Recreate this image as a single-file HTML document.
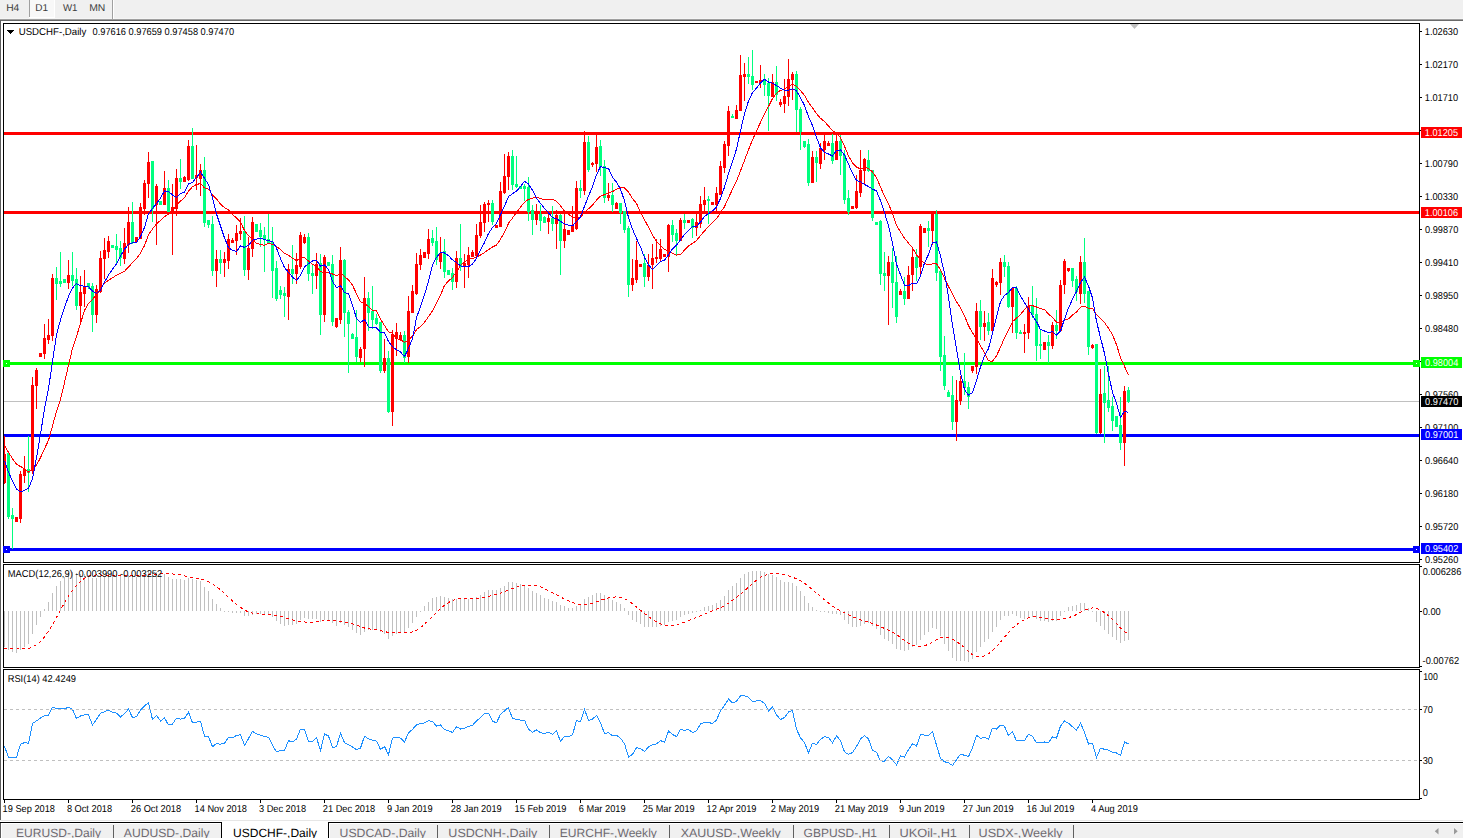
<!DOCTYPE html>
<html><head><meta charset="utf-8"><style>
html,body{margin:0;padding:0;width:1463px;height:838px;overflow:hidden;background:#fff;font-family:"Liberation Sans", sans-serif;}
svg{display:block}
</style></head><body><svg width="1463" height="838" viewBox="0 0 1463 838" text-rendering="geometricPrecision" font-family='"Liberation Sans", sans-serif'><rect x="0" y="0" width="1463" height="838" fill="#ffffff" /><rect x="0" y="0" width="1463" height="19" fill="#f0f0f0" /><rect x="0" y="18" width="1463" height="1" fill="#f5f5f5" /><rect x="0" y="19" width="1463" height="1" fill="#a0a0a0" /><rect x="0" y="20" width="1463" height="1" fill="#696969" /><rect x="0" y="20" width="1" height="800" fill="#5f5f5f" /><rect x="29" y="0" width="1" height="17" fill="#a0a0a0" /><rect x="30" y="0" width="24" height="17" fill="#f8f8f8" /><rect x="54" y="0" width="1" height="18" fill="#ffffff" /><rect x="29" y="17" width="26" height="1" fill="#ffffff" /><rect x="112" y="0" width="1" height="19" fill="#a0a0a0" /><rect x="113" y="0" width="1" height="19" fill="#ffffff" /><text transform="translate(6.18,11) scale(1.0300,1)" font-size="10" fill="#3c3c3c" >H4</text><text transform="translate(35.20,11) scale(1.0000,1)" font-size="10" fill="#3c3c3c" >D1</text><text transform="translate(62.95,11) scale(0.9655,1)" font-size="10" fill="#3c3c3c" >W1</text><text transform="translate(89.17,11) scale(1.0394,1)" font-size="10" fill="#3c3c3c" >MN</text><rect x="4" y="132" width="1415" height="3" fill="#ff0000" /><rect x="4" y="211" width="1415" height="3" fill="#ff0000" /><rect x="4" y="362" width="1415" height="3" fill="#00ff00" /><rect x="4" y="434" width="1415" height="3" fill="#0000ff" /><rect x="4" y="548" width="1415" height="3" fill="#0000ff" /><rect x="4" y="401" width="1415" height="1" fill="#c0c0c0" /><g shape-rendering="crispEdges"><rect x="4" y="436" width="1" height="48" fill="#ff0000"/><rect x="3" y="454" width="3" height="29" fill="#ff0000"/><rect x="8" y="452" width="1" height="67" fill="#00ff7f"/><rect x="7" y="453" width="3" height="64" fill="#00ff7f"/><rect x="12" y="508" width="1" height="41" fill="#00ff7f"/><rect x="11" y="515" width="3" height="4" fill="#00ff7f"/><rect x="16" y="517" width="1" height="5" fill="#ff0000"/><rect x="15" y="517" width="3" height="5" fill="#ff0000"/><rect x="20" y="471" width="1" height="52" fill="#ff0000"/><rect x="19" y="474" width="3" height="45" fill="#ff0000"/><rect x="24" y="456" width="1" height="27" fill="#ff0000"/><rect x="23" y="469" width="3" height="7" fill="#ff0000"/><rect x="28" y="436" width="1" height="56" fill="#00ff7f"/><rect x="27" y="469" width="3" height="4" fill="#00ff7f"/><rect x="32" y="377" width="1" height="97" fill="#ff0000"/><rect x="31" y="385" width="3" height="86" fill="#ff0000"/><rect x="36" y="368" width="1" height="41" fill="#ff0000"/><rect x="35" y="370" width="3" height="16" fill="#ff0000"/><rect x="40" y="353" width="1" height="4" fill="#ff0000"/><rect x="39" y="353" width="3" height="4" fill="#ff0000"/><rect x="44" y="324" width="1" height="35" fill="#ff0000"/><rect x="43" y="338" width="3" height="16" fill="#ff0000"/><rect x="48" y="319" width="1" height="25" fill="#ff0000"/><rect x="47" y="335" width="3" height="5" fill="#ff0000"/><rect x="52" y="274" width="1" height="67" fill="#ff0000"/><rect x="51" y="278" width="3" height="58" fill="#ff0000"/><rect x="56" y="267" width="1" height="33" fill="#00ff7f"/><rect x="55" y="278" width="3" height="6" fill="#00ff7f"/><rect x="60" y="252" width="1" height="35" fill="#00ff7f"/><rect x="59" y="281" width="3" height="3" fill="#00ff7f"/><rect x="64" y="279" width="1" height="4" fill="#00ff7f"/><rect x="63" y="279" width="3" height="4" fill="#00ff7f"/><rect x="68" y="260" width="1" height="29" fill="#ff0000"/><rect x="67" y="275" width="3" height="8" fill="#ff0000"/><rect x="72" y="252" width="1" height="34" fill="#00ff7f"/><rect x="71" y="275" width="3" height="6" fill="#00ff7f"/><rect x="76" y="268" width="1" height="42" fill="#00ff7f"/><rect x="75" y="279" width="3" height="27" fill="#00ff7f"/><rect x="80" y="276" width="1" height="46" fill="#ff0000"/><rect x="79" y="292" width="3" height="14" fill="#ff0000"/><rect x="84" y="270" width="1" height="37" fill="#ff0000"/><rect x="83" y="287" width="3" height="7" fill="#ff0000"/><rect x="88" y="283" width="1" height="6" fill="#00ff7f"/><rect x="87" y="283" width="3" height="4" fill="#00ff7f"/><rect x="92" y="283" width="1" height="49" fill="#00ff7f"/><rect x="91" y="286" width="3" height="29" fill="#00ff7f"/><rect x="96" y="285" width="1" height="38" fill="#ff0000"/><rect x="95" y="289" width="3" height="26" fill="#ff0000"/><rect x="100" y="251" width="1" height="42" fill="#ff0000"/><rect x="99" y="258" width="3" height="34" fill="#ff0000"/><rect x="104" y="238" width="1" height="41" fill="#ff0000"/><rect x="103" y="250" width="3" height="9" fill="#ff0000"/><rect x="108" y="236" width="1" height="22" fill="#ff0000"/><rect x="107" y="241" width="3" height="11" fill="#ff0000"/><rect x="112" y="245" width="1" height="3" fill="#00ff7f"/><rect x="111" y="245" width="3" height="3" fill="#00ff7f"/><rect x="116" y="234" width="1" height="29" fill="#00ff7f"/><rect x="115" y="246" width="3" height="4" fill="#00ff7f"/><rect x="120" y="241" width="1" height="25" fill="#00ff7f"/><rect x="119" y="248" width="3" height="10" fill="#00ff7f"/><rect x="124" y="228" width="1" height="36" fill="#ff0000"/><rect x="123" y="243" width="3" height="16" fill="#ff0000"/><rect x="128" y="207" width="1" height="46" fill="#ff0000"/><rect x="127" y="222" width="3" height="23" fill="#ff0000"/><rect x="132" y="202" width="1" height="42" fill="#00ff7f"/><rect x="131" y="222" width="3" height="21" fill="#00ff7f"/><rect x="136" y="237" width="1" height="5" fill="#ff0000"/><rect x="135" y="237" width="3" height="5" fill="#ff0000"/><rect x="140" y="203" width="1" height="36" fill="#ff0000"/><rect x="139" y="207" width="3" height="32" fill="#ff0000"/><rect x="144" y="180" width="1" height="35" fill="#ff0000"/><rect x="143" y="183" width="3" height="26" fill="#ff0000"/><rect x="148" y="152" width="1" height="46" fill="#ff0000"/><rect x="147" y="162" width="3" height="22" fill="#ff0000"/><rect x="152" y="161" width="1" height="61" fill="#00ff7f"/><rect x="151" y="161" width="3" height="48" fill="#00ff7f"/><rect x="156" y="184" width="1" height="61" fill="#ff0000"/><rect x="155" y="186" width="3" height="19" fill="#ff0000"/><rect x="160" y="201" width="1" height="4" fill="#00ff7f"/><rect x="159" y="201" width="3" height="4" fill="#00ff7f"/><rect x="164" y="171" width="1" height="34" fill="#ff0000"/><rect x="163" y="188" width="3" height="17" fill="#ff0000"/><rect x="168" y="180" width="1" height="32" fill="#00ff7f"/><rect x="167" y="188" width="3" height="24" fill="#00ff7f"/><rect x="172" y="184" width="1" height="71" fill="#ff0000"/><rect x="171" y="207" width="3" height="5" fill="#ff0000"/><rect x="176" y="169" width="1" height="47" fill="#ff0000"/><rect x="175" y="178" width="3" height="31" fill="#ff0000"/><rect x="180" y="159" width="1" height="30" fill="#00ff7f"/><rect x="179" y="178" width="3" height="4" fill="#00ff7f"/><rect x="184" y="176" width="1" height="6" fill="#ff0000"/><rect x="183" y="177" width="3" height="5" fill="#ff0000"/><rect x="188" y="140" width="1" height="41" fill="#ff0000"/><rect x="187" y="146" width="3" height="34" fill="#ff0000"/><rect x="192" y="128" width="1" height="51" fill="#00ff7f"/><rect x="191" y="146" width="3" height="33" fill="#00ff7f"/><rect x="196" y="145" width="1" height="45" fill="#ff0000"/><rect x="195" y="175" width="3" height="3" fill="#ff0000"/><rect x="200" y="164" width="1" height="32" fill="#ff0000"/><rect x="199" y="170" width="3" height="9" fill="#ff0000"/><rect x="204" y="157" width="1" height="70" fill="#00ff7f"/><rect x="203" y="170" width="3" height="53" fill="#00ff7f"/><rect x="208" y="220" width="1" height="8" fill="#00ff7f"/><rect x="207" y="220" width="3" height="5" fill="#00ff7f"/><rect x="212" y="216" width="1" height="60" fill="#00ff7f"/><rect x="211" y="224" width="3" height="47" fill="#00ff7f"/><rect x="216" y="250" width="1" height="37" fill="#ff0000"/><rect x="215" y="259" width="3" height="12" fill="#ff0000"/><rect x="220" y="250" width="1" height="24" fill="#00ff7f"/><rect x="219" y="259" width="3" height="4" fill="#00ff7f"/><rect x="224" y="252" width="1" height="25" fill="#ff0000"/><rect x="223" y="259" width="3" height="4" fill="#ff0000"/><rect x="228" y="234" width="1" height="35" fill="#ff0000"/><rect x="227" y="239" width="3" height="22" fill="#ff0000"/><rect x="232" y="238" width="1" height="5" fill="#ff0000"/><rect x="231" y="240" width="3" height="3" fill="#ff0000"/><rect x="236" y="225" width="1" height="30" fill="#ff0000"/><rect x="235" y="233" width="3" height="8" fill="#ff0000"/><rect x="240" y="218" width="1" height="22" fill="#ff0000"/><rect x="239" y="231" width="3" height="3" fill="#ff0000"/><rect x="244" y="216" width="1" height="60" fill="#00ff7f"/><rect x="243" y="231" width="3" height="39" fill="#00ff7f"/><rect x="248" y="237" width="1" height="43" fill="#ff0000"/><rect x="247" y="248" width="3" height="22" fill="#ff0000"/><rect x="252" y="217" width="1" height="40" fill="#ff0000"/><rect x="251" y="222" width="3" height="27" fill="#ff0000"/><rect x="256" y="224" width="1" height="8" fill="#00ff7f"/><rect x="255" y="224" width="3" height="8" fill="#00ff7f"/><rect x="260" y="223" width="1" height="24" fill="#00ff7f"/><rect x="259" y="230" width="3" height="7" fill="#00ff7f"/><rect x="264" y="227" width="1" height="45" fill="#00ff7f"/><rect x="263" y="235" width="3" height="5" fill="#00ff7f"/><rect x="268" y="214" width="1" height="29" fill="#00ff7f"/><rect x="267" y="239" width="3" height="4" fill="#00ff7f"/><rect x="272" y="227" width="1" height="71" fill="#00ff7f"/><rect x="271" y="242" width="3" height="29" fill="#00ff7f"/><rect x="276" y="261" width="1" height="40" fill="#00ff7f"/><rect x="275" y="268" width="3" height="31" fill="#00ff7f"/><rect x="280" y="286" width="1" height="13" fill="#00ff7f"/><rect x="279" y="290" width="3" height="5" fill="#00ff7f"/><rect x="284" y="287" width="1" height="30" fill="#00ff7f"/><rect x="283" y="293" width="3" height="3" fill="#00ff7f"/><rect x="288" y="264" width="1" height="56" fill="#ff0000"/><rect x="287" y="269" width="3" height="28" fill="#ff0000"/><rect x="292" y="245" width="1" height="39" fill="#00ff7f"/><rect x="291" y="269" width="3" height="5" fill="#00ff7f"/><rect x="296" y="253" width="1" height="31" fill="#ff0000"/><rect x="295" y="265" width="3" height="9" fill="#ff0000"/><rect x="300" y="232" width="1" height="37" fill="#ff0000"/><rect x="299" y="235" width="3" height="32" fill="#ff0000"/><rect x="304" y="234" width="1" height="10" fill="#ff0000"/><rect x="303" y="237" width="3" height="6" fill="#ff0000"/><rect x="308" y="233" width="1" height="48" fill="#00ff7f"/><rect x="307" y="237" width="3" height="37" fill="#00ff7f"/><rect x="312" y="265" width="1" height="29" fill="#00ff7f"/><rect x="311" y="273" width="3" height="3" fill="#00ff7f"/><rect x="316" y="253" width="1" height="36" fill="#ff0000"/><rect x="315" y="264" width="3" height="12" fill="#ff0000"/><rect x="320" y="254" width="1" height="81" fill="#00ff7f"/><rect x="319" y="263" width="3" height="52" fill="#00ff7f"/><rect x="324" y="255" width="1" height="67" fill="#ff0000"/><rect x="323" y="257" width="3" height="58" fill="#ff0000"/><rect x="328" y="262" width="1" height="4" fill="#00ff7f"/><rect x="327" y="262" width="3" height="4" fill="#00ff7f"/><rect x="332" y="255" width="1" height="71" fill="#00ff7f"/><rect x="331" y="264" width="3" height="58" fill="#00ff7f"/><rect x="336" y="318" width="1" height="10" fill="#ff0000"/><rect x="335" y="318" width="3" height="9" fill="#ff0000"/><rect x="340" y="247" width="1" height="77" fill="#ff0000"/><rect x="339" y="260" width="3" height="60" fill="#ff0000"/><rect x="344" y="259" width="1" height="78" fill="#00ff7f"/><rect x="343" y="260" width="3" height="53" fill="#00ff7f"/><rect x="348" y="310" width="1" height="63" fill="#00ff7f"/><rect x="347" y="312" width="3" height="12" fill="#00ff7f"/><rect x="352" y="333" width="1" height="6" fill="#00ff7f"/><rect x="351" y="334" width="3" height="5" fill="#00ff7f"/><rect x="356" y="310" width="1" height="52" fill="#00ff7f"/><rect x="355" y="337" width="3" height="20" fill="#00ff7f"/><rect x="360" y="347" width="1" height="15" fill="#ff0000"/><rect x="359" y="349" width="3" height="9" fill="#ff0000"/><rect x="364" y="277" width="1" height="90" fill="#ff0000"/><rect x="363" y="298" width="3" height="51" fill="#ff0000"/><rect x="368" y="292" width="1" height="39" fill="#00ff7f"/><rect x="367" y="298" width="3" height="15" fill="#00ff7f"/><rect x="372" y="286" width="1" height="43" fill="#00ff7f"/><rect x="371" y="311" width="3" height="9" fill="#00ff7f"/><rect x="376" y="314" width="1" height="11" fill="#00ff7f"/><rect x="375" y="318" width="3" height="6" fill="#00ff7f"/><rect x="380" y="322" width="1" height="51" fill="#00ff7f"/><rect x="379" y="322" width="3" height="49" fill="#00ff7f"/><rect x="384" y="339" width="1" height="34" fill="#ff0000"/><rect x="383" y="358" width="3" height="13" fill="#ff0000"/><rect x="388" y="351" width="1" height="62" fill="#00ff7f"/><rect x="387" y="358" width="3" height="54" fill="#00ff7f"/><rect x="392" y="330" width="1" height="96" fill="#ff0000"/><rect x="391" y="334" width="3" height="78" fill="#ff0000"/><rect x="396" y="323" width="1" height="33" fill="#ff0000"/><rect x="395" y="332" width="3" height="7" fill="#ff0000"/><rect x="400" y="332" width="1" height="9" fill="#ff0000"/><rect x="399" y="335" width="3" height="5" fill="#ff0000"/><rect x="404" y="331" width="1" height="32" fill="#00ff7f"/><rect x="403" y="335" width="3" height="23" fill="#00ff7f"/><rect x="408" y="296" width="1" height="67" fill="#ff0000"/><rect x="407" y="311" width="3" height="46" fill="#ff0000"/><rect x="412" y="285" width="1" height="28" fill="#ff0000"/><rect x="411" y="291" width="3" height="22" fill="#ff0000"/><rect x="416" y="253" width="1" height="42" fill="#ff0000"/><rect x="415" y="264" width="3" height="30" fill="#ff0000"/><rect x="420" y="249" width="1" height="21" fill="#ff0000"/><rect x="419" y="255" width="3" height="10" fill="#ff0000"/><rect x="424" y="252" width="1" height="6" fill="#ff0000"/><rect x="423" y="252" width="3" height="6" fill="#ff0000"/><rect x="428" y="229" width="1" height="30" fill="#ff0000"/><rect x="427" y="239" width="3" height="15" fill="#ff0000"/><rect x="432" y="230" width="1" height="16" fill="#00ff7f"/><rect x="431" y="238" width="3" height="5" fill="#00ff7f"/><rect x="436" y="227" width="1" height="38" fill="#00ff7f"/><rect x="435" y="241" width="3" height="19" fill="#00ff7f"/><rect x="440" y="237" width="1" height="32" fill="#ff0000"/><rect x="439" y="253" width="3" height="9" fill="#ff0000"/><rect x="444" y="239" width="1" height="39" fill="#00ff7f"/><rect x="443" y="251" width="3" height="21" fill="#00ff7f"/><rect x="448" y="270" width="1" height="5" fill="#00ff7f"/><rect x="447" y="270" width="3" height="5" fill="#00ff7f"/><rect x="452" y="268" width="1" height="22" fill="#00ff7f"/><rect x="451" y="273" width="3" height="9" fill="#00ff7f"/><rect x="456" y="251" width="1" height="37" fill="#ff0000"/><rect x="455" y="258" width="3" height="24" fill="#ff0000"/><rect x="460" y="224" width="1" height="47" fill="#00ff7f"/><rect x="459" y="258" width="3" height="9" fill="#00ff7f"/><rect x="464" y="254" width="1" height="34" fill="#ff0000"/><rect x="463" y="263" width="3" height="4" fill="#ff0000"/><rect x="468" y="247" width="1" height="31" fill="#ff0000"/><rect x="467" y="255" width="3" height="10" fill="#ff0000"/><rect x="472" y="250" width="1" height="7" fill="#ff0000"/><rect x="471" y="252" width="3" height="5" fill="#ff0000"/><rect x="476" y="224" width="1" height="32" fill="#ff0000"/><rect x="475" y="235" width="3" height="21" fill="#ff0000"/><rect x="480" y="205" width="1" height="33" fill="#ff0000"/><rect x="479" y="222" width="3" height="14" fill="#ff0000"/><rect x="484" y="202" width="1" height="30" fill="#ff0000"/><rect x="483" y="204" width="3" height="19" fill="#ff0000"/><rect x="488" y="200" width="1" height="22" fill="#ff0000"/><rect x="487" y="203" width="3" height="2" fill="#ff0000"/><rect x="492" y="200" width="1" height="25" fill="#00ff7f"/><rect x="491" y="203" width="3" height="19" fill="#00ff7f"/><rect x="496" y="225" width="1" height="3" fill="#ff0000"/><rect x="495" y="225" width="3" height="3" fill="#ff0000"/><rect x="500" y="182" width="1" height="45" fill="#ff0000"/><rect x="499" y="191" width="3" height="36" fill="#ff0000"/><rect x="504" y="154" width="1" height="40" fill="#ff0000"/><rect x="503" y="176" width="3" height="17" fill="#ff0000"/><rect x="508" y="152" width="1" height="38" fill="#ff0000"/><rect x="507" y="156" width="3" height="21" fill="#ff0000"/><rect x="512" y="150" width="1" height="40" fill="#00ff7f"/><rect x="511" y="156" width="3" height="29" fill="#00ff7f"/><rect x="516" y="156" width="1" height="32" fill="#00ff7f"/><rect x="515" y="184" width="3" height="3" fill="#00ff7f"/><rect x="520" y="186" width="1" height="3" fill="#00ff7f"/><rect x="519" y="186" width="3" height="3" fill="#00ff7f"/><rect x="524" y="184" width="1" height="17" fill="#00ff7f"/><rect x="523" y="186" width="3" height="3" fill="#00ff7f"/><rect x="528" y="177" width="1" height="44" fill="#00ff7f"/><rect x="527" y="187" width="3" height="25" fill="#00ff7f"/><rect x="532" y="205" width="1" height="30" fill="#00ff7f"/><rect x="531" y="210" width="3" height="10" fill="#00ff7f"/><rect x="536" y="204" width="1" height="21" fill="#ff0000"/><rect x="535" y="212" width="3" height="8" fill="#ff0000"/><rect x="540" y="205" width="1" height="26" fill="#00ff7f"/><rect x="539" y="214" width="3" height="7" fill="#00ff7f"/><rect x="544" y="216" width="1" height="7" fill="#00ff7f"/><rect x="543" y="217" width="3" height="6" fill="#00ff7f"/><rect x="548" y="214" width="1" height="20" fill="#ff0000"/><rect x="547" y="218" width="3" height="4" fill="#ff0000"/><rect x="552" y="206" width="1" height="25" fill="#00ff7f"/><rect x="551" y="218" width="3" height="6" fill="#00ff7f"/><rect x="556" y="210" width="1" height="39" fill="#ff0000"/><rect x="555" y="215" width="3" height="9" fill="#ff0000"/><rect x="560" y="214" width="1" height="61" fill="#00ff7f"/><rect x="559" y="215" width="3" height="26" fill="#00ff7f"/><rect x="564" y="214" width="1" height="34" fill="#ff0000"/><rect x="563" y="229" width="3" height="12" fill="#ff0000"/><rect x="568" y="230" width="1" height="5" fill="#ff0000"/><rect x="567" y="230" width="3" height="5" fill="#ff0000"/><rect x="572" y="206" width="1" height="26" fill="#ff0000"/><rect x="571" y="226" width="3" height="6" fill="#ff0000"/><rect x="576" y="181" width="1" height="49" fill="#ff0000"/><rect x="575" y="188" width="3" height="41" fill="#ff0000"/><rect x="580" y="180" width="1" height="18" fill="#00ff7f"/><rect x="579" y="188" width="3" height="3" fill="#00ff7f"/><rect x="584" y="131" width="1" height="64" fill="#ff0000"/><rect x="583" y="142" width="3" height="49" fill="#ff0000"/><rect x="588" y="136" width="1" height="36" fill="#00ff7f"/><rect x="587" y="142" width="3" height="28" fill="#00ff7f"/><rect x="592" y="162" width="1" height="5" fill="#ff0000"/><rect x="591" y="163" width="3" height="2" fill="#ff0000"/><rect x="596" y="135" width="1" height="37" fill="#ff0000"/><rect x="595" y="147" width="3" height="17" fill="#ff0000"/><rect x="600" y="140" width="1" height="36" fill="#00ff7f"/><rect x="599" y="146" width="3" height="21" fill="#00ff7f"/><rect x="604" y="160" width="1" height="43" fill="#00ff7f"/><rect x="603" y="166" width="3" height="32" fill="#00ff7f"/><rect x="608" y="183" width="1" height="18" fill="#ff0000"/><rect x="607" y="195" width="3" height="3" fill="#ff0000"/><rect x="612" y="183" width="1" height="29" fill="#00ff7f"/><rect x="611" y="195" width="3" height="10" fill="#00ff7f"/><rect x="616" y="202" width="1" height="7" fill="#ff0000"/><rect x="615" y="203" width="3" height="6" fill="#ff0000"/><rect x="620" y="203" width="1" height="21" fill="#00ff7f"/><rect x="619" y="203" width="3" height="10" fill="#00ff7f"/><rect x="624" y="211" width="1" height="22" fill="#00ff7f"/><rect x="623" y="211" width="3" height="19" fill="#00ff7f"/><rect x="628" y="226" width="1" height="71" fill="#00ff7f"/><rect x="627" y="228" width="3" height="57" fill="#00ff7f"/><rect x="632" y="259" width="1" height="32" fill="#ff0000"/><rect x="631" y="278" width="3" height="7" fill="#ff0000"/><rect x="636" y="241" width="1" height="42" fill="#ff0000"/><rect x="635" y="260" width="3" height="20" fill="#ff0000"/><rect x="640" y="264" width="1" height="3" fill="#ff0000"/><rect x="639" y="264" width="3" height="3" fill="#ff0000"/><rect x="644" y="254" width="1" height="33" fill="#00ff7f"/><rect x="643" y="263" width="3" height="14" fill="#00ff7f"/><rect x="648" y="254" width="1" height="27" fill="#ff0000"/><rect x="647" y="265" width="3" height="12" fill="#ff0000"/><rect x="652" y="244" width="1" height="45" fill="#ff0000"/><rect x="651" y="258" width="3" height="7" fill="#ff0000"/><rect x="656" y="239" width="1" height="24" fill="#ff0000"/><rect x="655" y="257" width="3" height="2" fill="#ff0000"/><rect x="660" y="239" width="1" height="23" fill="#ff0000"/><rect x="659" y="249" width="3" height="10" fill="#ff0000"/><rect x="664" y="254" width="1" height="3" fill="#ff0000"/><rect x="663" y="254" width="3" height="3" fill="#ff0000"/><rect x="668" y="224" width="1" height="48" fill="#ff0000"/><rect x="667" y="225" width="3" height="32" fill="#ff0000"/><rect x="672" y="220" width="1" height="22" fill="#00ff7f"/><rect x="671" y="225" width="3" height="10" fill="#00ff7f"/><rect x="676" y="229" width="1" height="26" fill="#00ff7f"/><rect x="675" y="233" width="3" height="8" fill="#00ff7f"/><rect x="680" y="218" width="1" height="23" fill="#ff0000"/><rect x="679" y="220" width="3" height="21" fill="#ff0000"/><rect x="684" y="214" width="1" height="15" fill="#00ff7f"/><rect x="683" y="220" width="3" height="3" fill="#00ff7f"/><rect x="688" y="220" width="1" height="3" fill="#ff0000"/><rect x="687" y="220" width="3" height="3" fill="#ff0000"/><rect x="692" y="218" width="1" height="20" fill="#00ff7f"/><rect x="691" y="219" width="3" height="9" fill="#00ff7f"/><rect x="696" y="214" width="1" height="22" fill="#ff0000"/><rect x="695" y="222" width="3" height="6" fill="#ff0000"/><rect x="700" y="196" width="1" height="32" fill="#ff0000"/><rect x="699" y="204" width="3" height="20" fill="#ff0000"/><rect x="704" y="187" width="1" height="26" fill="#ff0000"/><rect x="703" y="200" width="3" height="5" fill="#ff0000"/><rect x="708" y="196" width="1" height="28" fill="#00ff7f"/><rect x="707" y="199" width="3" height="2" fill="#00ff7f"/><rect x="712" y="202" width="1" height="3" fill="#ff0000"/><rect x="711" y="202" width="3" height="3" fill="#ff0000"/><rect x="716" y="187" width="1" height="25" fill="#ff0000"/><rect x="715" y="193" width="3" height="12" fill="#ff0000"/><rect x="720" y="161" width="1" height="34" fill="#ff0000"/><rect x="719" y="166" width="3" height="29" fill="#ff0000"/><rect x="724" y="141" width="1" height="32" fill="#ff0000"/><rect x="723" y="144" width="3" height="24" fill="#ff0000"/><rect x="728" y="106" width="1" height="50" fill="#ff0000"/><rect x="727" y="111" width="3" height="35" fill="#ff0000"/><rect x="732" y="114" width="1" height="4" fill="#00ff7f"/><rect x="731" y="116" width="3" height="2" fill="#00ff7f"/><rect x="736" y="105" width="1" height="14" fill="#ff0000"/><rect x="735" y="110" width="3" height="9" fill="#ff0000"/><rect x="740" y="55" width="1" height="56" fill="#ff0000"/><rect x="739" y="75" width="3" height="36" fill="#ff0000"/><rect x="744" y="63" width="1" height="38" fill="#ff0000"/><rect x="743" y="74" width="3" height="3" fill="#ff0000"/><rect x="748" y="57" width="1" height="27" fill="#00ff7f"/><rect x="747" y="74" width="3" height="3" fill="#00ff7f"/><rect x="752" y="50" width="1" height="40" fill="#00ff7f"/><rect x="751" y="76" width="3" height="9" fill="#00ff7f"/><rect x="756" y="81" width="1" height="2" fill="#ff0000"/><rect x="755" y="81" width="3" height="2" fill="#ff0000"/><rect x="760" y="65" width="1" height="23" fill="#ff0000"/><rect x="759" y="80" width="3" height="3" fill="#ff0000"/><rect x="764" y="74" width="1" height="22" fill="#00ff7f"/><rect x="763" y="80" width="3" height="5" fill="#00ff7f"/><rect x="768" y="78" width="1" height="53" fill="#00ff7f"/><rect x="767" y="83" width="3" height="13" fill="#00ff7f"/><rect x="772" y="74" width="1" height="23" fill="#ff0000"/><rect x="771" y="82" width="3" height="15" fill="#ff0000"/><rect x="776" y="66" width="1" height="35" fill="#00ff7f"/><rect x="775" y="82" width="3" height="13" fill="#00ff7f"/><rect x="780" y="99" width="1" height="8" fill="#ff0000"/><rect x="779" y="102" width="3" height="3" fill="#ff0000"/><rect x="784" y="79" width="1" height="34" fill="#ff0000"/><rect x="783" y="96" width="3" height="8" fill="#ff0000"/><rect x="788" y="59" width="1" height="47" fill="#ff0000"/><rect x="787" y="79" width="3" height="18" fill="#ff0000"/><rect x="792" y="72" width="1" height="28" fill="#ff0000"/><rect x="791" y="74" width="3" height="6" fill="#ff0000"/><rect x="796" y="71" width="1" height="61" fill="#00ff7f"/><rect x="795" y="74" width="3" height="36" fill="#00ff7f"/><rect x="800" y="107" width="1" height="43" fill="#00ff7f"/><rect x="799" y="109" width="3" height="23" fill="#00ff7f"/><rect x="804" y="141" width="1" height="7" fill="#00ff7f"/><rect x="803" y="141" width="3" height="6" fill="#00ff7f"/><rect x="808" y="139" width="1" height="47" fill="#00ff7f"/><rect x="807" y="144" width="3" height="39" fill="#00ff7f"/><rect x="812" y="151" width="1" height="32" fill="#ff0000"/><rect x="811" y="157" width="3" height="26" fill="#ff0000"/><rect x="816" y="151" width="1" height="31" fill="#00ff7f"/><rect x="815" y="157" width="3" height="6" fill="#00ff7f"/><rect x="820" y="143" width="1" height="26" fill="#ff0000"/><rect x="819" y="148" width="3" height="16" fill="#ff0000"/><rect x="824" y="134" width="1" height="26" fill="#ff0000"/><rect x="823" y="141" width="3" height="9" fill="#ff0000"/><rect x="828" y="141" width="1" height="5" fill="#ff0000"/><rect x="827" y="143" width="3" height="3" fill="#ff0000"/><rect x="832" y="134" width="1" height="30" fill="#00ff7f"/><rect x="831" y="143" width="3" height="18" fill="#00ff7f"/><rect x="836" y="133" width="1" height="27" fill="#ff0000"/><rect x="835" y="141" width="3" height="19" fill="#ff0000"/><rect x="840" y="135" width="1" height="40" fill="#00ff7f"/><rect x="839" y="141" width="3" height="15" fill="#00ff7f"/><rect x="844" y="150" width="1" height="54" fill="#00ff7f"/><rect x="843" y="155" width="3" height="45" fill="#00ff7f"/><rect x="848" y="190" width="1" height="25" fill="#00ff7f"/><rect x="847" y="198" width="3" height="14" fill="#00ff7f"/><rect x="852" y="206" width="1" height="3" fill="#ff0000"/><rect x="851" y="206" width="3" height="3" fill="#ff0000"/><rect x="856" y="175" width="1" height="34" fill="#ff0000"/><rect x="855" y="191" width="3" height="17" fill="#ff0000"/><rect x="860" y="150" width="1" height="47" fill="#ff0000"/><rect x="859" y="170" width="3" height="23" fill="#ff0000"/><rect x="864" y="158" width="1" height="26" fill="#ff0000"/><rect x="863" y="159" width="3" height="12" fill="#ff0000"/><rect x="868" y="150" width="1" height="22" fill="#00ff7f"/><rect x="867" y="160" width="3" height="11" fill="#00ff7f"/><rect x="872" y="170" width="1" height="51" fill="#00ff7f"/><rect x="871" y="170" width="3" height="48" fill="#00ff7f"/><rect x="876" y="222" width="1" height="3" fill="#00ff7f"/><rect x="875" y="222" width="3" height="3" fill="#00ff7f"/><rect x="880" y="220" width="1" height="65" fill="#00ff7f"/><rect x="879" y="221" width="3" height="53" fill="#00ff7f"/><rect x="884" y="252" width="1" height="39" fill="#00ff7f"/><rect x="883" y="273" width="3" height="3" fill="#00ff7f"/><rect x="888" y="256" width="1" height="69" fill="#ff0000"/><rect x="887" y="262" width="3" height="14" fill="#ff0000"/><rect x="892" y="248" width="1" height="60" fill="#00ff7f"/><rect x="891" y="262" width="3" height="21" fill="#00ff7f"/><rect x="896" y="256" width="1" height="67" fill="#00ff7f"/><rect x="895" y="282" width="3" height="35" fill="#00ff7f"/><rect x="900" y="289" width="1" height="6" fill="#ff0000"/><rect x="899" y="291" width="3" height="4" fill="#ff0000"/><rect x="904" y="277" width="1" height="28" fill="#00ff7f"/><rect x="903" y="291" width="3" height="8" fill="#00ff7f"/><rect x="908" y="266" width="1" height="33" fill="#ff0000"/><rect x="907" y="275" width="3" height="24" fill="#ff0000"/><rect x="912" y="249" width="1" height="42" fill="#ff0000"/><rect x="911" y="257" width="3" height="18" fill="#ff0000"/><rect x="916" y="249" width="1" height="32" fill="#00ff7f"/><rect x="915" y="257" width="3" height="11" fill="#00ff7f"/><rect x="920" y="224" width="1" height="50" fill="#ff0000"/><rect x="919" y="226" width="3" height="41" fill="#ff0000"/><rect x="924" y="228" width="1" height="5" fill="#ff0000"/><rect x="923" y="228" width="3" height="5" fill="#ff0000"/><rect x="928" y="221" width="1" height="26" fill="#00ff7f"/><rect x="927" y="228" width="3" height="3" fill="#00ff7f"/><rect x="932" y="214" width="1" height="31" fill="#ff0000"/><rect x="931" y="214" width="3" height="17" fill="#ff0000"/><rect x="936" y="210" width="1" height="71" fill="#00ff7f"/><rect x="935" y="214" width="3" height="59" fill="#00ff7f"/><rect x="940" y="271" width="1" height="100" fill="#00ff7f"/><rect x="939" y="271" width="3" height="86" fill="#00ff7f"/><rect x="944" y="336" width="1" height="54" fill="#00ff7f"/><rect x="943" y="355" width="3" height="31" fill="#00ff7f"/><rect x="948" y="390" width="1" height="7" fill="#00ff7f"/><rect x="947" y="392" width="3" height="5" fill="#00ff7f"/><rect x="952" y="376" width="1" height="54" fill="#00ff7f"/><rect x="951" y="395" width="3" height="27" fill="#00ff7f"/><rect x="956" y="380" width="1" height="61" fill="#ff0000"/><rect x="955" y="400" width="3" height="22" fill="#ff0000"/><rect x="960" y="376" width="1" height="29" fill="#ff0000"/><rect x="959" y="381" width="3" height="20" fill="#ff0000"/><rect x="964" y="353" width="1" height="42" fill="#00ff7f"/><rect x="963" y="381" width="3" height="7" fill="#00ff7f"/><rect x="968" y="382" width="1" height="27" fill="#00ff7f"/><rect x="967" y="387" width="3" height="10" fill="#00ff7f"/><rect x="972" y="366" width="1" height="7" fill="#ff0000"/><rect x="971" y="366" width="3" height="5" fill="#ff0000"/><rect x="976" y="303" width="1" height="71" fill="#ff0000"/><rect x="975" y="311" width="3" height="56" fill="#ff0000"/><rect x="980" y="300" width="1" height="40" fill="#00ff7f"/><rect x="979" y="311" width="3" height="16" fill="#00ff7f"/><rect x="984" y="311" width="1" height="30" fill="#ff0000"/><rect x="983" y="323" width="3" height="4" fill="#ff0000"/><rect x="988" y="313" width="1" height="22" fill="#00ff7f"/><rect x="987" y="322" width="3" height="9" fill="#00ff7f"/><rect x="992" y="269" width="1" height="62" fill="#ff0000"/><rect x="991" y="278" width="3" height="53" fill="#ff0000"/><rect x="996" y="281" width="1" height="6" fill="#ff0000"/><rect x="995" y="282" width="3" height="3" fill="#ff0000"/><rect x="1000" y="258" width="1" height="37" fill="#ff0000"/><rect x="999" y="262" width="3" height="21" fill="#ff0000"/><rect x="1004" y="255" width="1" height="22" fill="#00ff7f"/><rect x="1003" y="262" width="3" height="5" fill="#00ff7f"/><rect x="1008" y="262" width="1" height="46" fill="#00ff7f"/><rect x="1007" y="266" width="3" height="41" fill="#00ff7f"/><rect x="1012" y="288" width="1" height="45" fill="#ff0000"/><rect x="1011" y="288" width="3" height="19" fill="#ff0000"/><rect x="1016" y="286" width="1" height="53" fill="#00ff7f"/><rect x="1015" y="288" width="3" height="45" fill="#00ff7f"/><rect x="1020" y="330" width="1" height="4" fill="#00ff7f"/><rect x="1019" y="332" width="3" height="2" fill="#00ff7f"/><rect x="1024" y="324" width="1" height="29" fill="#ff0000"/><rect x="1023" y="332" width="3" height="2" fill="#ff0000"/><rect x="1028" y="297" width="1" height="42" fill="#ff0000"/><rect x="1027" y="306" width="3" height="27" fill="#ff0000"/><rect x="1032" y="286" width="1" height="32" fill="#00ff7f"/><rect x="1031" y="306" width="3" height="9" fill="#00ff7f"/><rect x="1036" y="298" width="1" height="63" fill="#00ff7f"/><rect x="1035" y="314" width="3" height="32" fill="#00ff7f"/><rect x="1040" y="330" width="1" height="29" fill="#00ff7f"/><rect x="1039" y="344" width="3" height="2" fill="#00ff7f"/><rect x="1044" y="342" width="1" height="8" fill="#ff0000"/><rect x="1043" y="342" width="3" height="8" fill="#ff0000"/><rect x="1048" y="335" width="1" height="28" fill="#00ff7f"/><rect x="1047" y="342" width="3" height="4" fill="#00ff7f"/><rect x="1052" y="322" width="1" height="27" fill="#ff0000"/><rect x="1051" y="325" width="3" height="21" fill="#ff0000"/><rect x="1056" y="310" width="1" height="29" fill="#00ff7f"/><rect x="1055" y="325" width="3" height="6" fill="#00ff7f"/><rect x="1060" y="280" width="1" height="51" fill="#ff0000"/><rect x="1059" y="285" width="3" height="46" fill="#ff0000"/><rect x="1064" y="259" width="1" height="35" fill="#ff0000"/><rect x="1063" y="261" width="3" height="24" fill="#ff0000"/><rect x="1068" y="268" width="1" height="4" fill="#ff0000"/><rect x="1067" y="268" width="3" height="3" fill="#ff0000"/><rect x="1072" y="268" width="1" height="19" fill="#00ff7f"/><rect x="1071" y="268" width="3" height="13" fill="#00ff7f"/><rect x="1076" y="276" width="1" height="25" fill="#00ff7f"/><rect x="1075" y="279" width="3" height="13" fill="#00ff7f"/><rect x="1080" y="256" width="1" height="48" fill="#ff0000"/><rect x="1079" y="262" width="3" height="32" fill="#ff0000"/><rect x="1084" y="238" width="1" height="65" fill="#00ff7f"/><rect x="1083" y="262" width="3" height="32" fill="#00ff7f"/><rect x="1088" y="291" width="1" height="64" fill="#00ff7f"/><rect x="1087" y="291" width="3" height="56" fill="#00ff7f"/><rect x="1092" y="344" width="1" height="5" fill="#ff0000"/><rect x="1091" y="345" width="3" height="3" fill="#ff0000"/><rect x="1096" y="344" width="1" height="90" fill="#00ff7f"/><rect x="1095" y="344" width="3" height="89" fill="#00ff7f"/><rect x="1100" y="369" width="1" height="65" fill="#ff0000"/><rect x="1099" y="394" width="3" height="39" fill="#ff0000"/><rect x="1104" y="366" width="1" height="77" fill="#00ff7f"/><rect x="1103" y="393" width="3" height="10" fill="#00ff7f"/><rect x="1108" y="366" width="1" height="46" fill="#00ff7f"/><rect x="1107" y="400" width="3" height="8" fill="#00ff7f"/><rect x="1112" y="397" width="1" height="34" fill="#00ff7f"/><rect x="1111" y="406" width="3" height="15" fill="#00ff7f"/><rect x="1116" y="416" width="1" height="11" fill="#00ff7f"/><rect x="1115" y="416" width="3" height="11" fill="#00ff7f"/><rect x="1120" y="397" width="1" height="53" fill="#00ff7f"/><rect x="1119" y="425" width="3" height="18" fill="#00ff7f"/><rect x="1124" y="386" width="1" height="80" fill="#ff0000"/><rect x="1123" y="391" width="3" height="52" fill="#ff0000"/><rect x="1128" y="387" width="1" height="16" fill="#00ff7f"/><rect x="1127" y="390" width="3" height="12" fill="#00ff7f"/></g><polyline points="4.5,445.57 8.5,452.34 12.5,458.74 16.5,464.34 20.5,466.50 24.5,468.64 28.5,471.99 32.5,469.60 36.5,464.99 40.5,457.68 44.5,448.81 48.5,440.32 52.5,425.90 56.5,411.50 60.5,399.29 64.5,382.61 68.5,365.25 72.5,348.29 76.5,336.21 80.5,323.57 84.5,310.36 88.5,303.31 92.5,299.30 96.5,294.72 100.5,289.01 104.5,282.95 108.5,280.31 112.5,277.73 116.5,275.27 120.5,273.51 124.5,271.24 128.5,267.12 132.5,262.61 136.5,258.70 140.5,253.00 144.5,245.63 148.5,234.76 152.5,228.96 156.5,223.81 160.5,220.48 164.5,216.69 168.5,214.13 172.5,211.16 176.5,205.49 180.5,201.05 184.5,197.84 188.5,190.98 192.5,186.75 196.5,184.48 200.5,183.53 204.5,187.86 208.5,189.04 212.5,195.04 216.5,198.98 220.5,204.23 224.5,207.63 228.5,209.89 232.5,214.32 236.5,218.05 240.5,221.91 244.5,230.67 248.5,235.65 252.5,239.01 256.5,243.38 260.5,244.34 264.5,245.43 268.5,243.44 272.5,244.23 276.5,246.81 280.5,249.32 284.5,253.31 288.5,255.37 292.5,258.20 296.5,260.64 300.5,258.24 304.5,257.50 308.5,261.14 312.5,264.27 316.5,266.26 320.5,271.60 324.5,272.66 328.5,272.36 332.5,274.00 336.5,275.74 340.5,273.27 344.5,276.39 348.5,279.99 352.5,285.19 356.5,293.83 360.5,301.81 364.5,303.61 368.5,306.25 372.5,310.20 376.5,310.85 380.5,318.88 384.5,325.50 388.5,331.96 392.5,333.13 396.5,338.28 400.5,339.88 404.5,342.26 408.5,340.35 412.5,335.71 416.5,329.65 420.5,326.56 424.5,322.27 428.5,316.57 432.5,310.75 436.5,302.89 440.5,295.40 444.5,285.38 448.5,281.06 452.5,277.39 456.5,271.88 460.5,265.38 464.5,261.95 468.5,259.39 472.5,258.50 476.5,257.07 480.5,254.98 484.5,252.50 488.5,249.72 492.5,246.98 496.5,244.98 500.5,239.27 504.5,232.25 508.5,223.33 512.5,218.09 516.5,212.39 520.5,207.04 524.5,202.24 528.5,199.33 532.5,198.17 536.5,197.45 540.5,198.52 544.5,199.87 548.5,199.67 552.5,199.51 556.5,201.26 560.5,205.86 564.5,211.08 568.5,214.31 572.5,217.18 576.5,217.16 580.5,217.28 584.5,212.36 588.5,208.78 592.5,205.26 596.5,200.09 600.5,196.15 604.5,194.61 608.5,192.62 612.5,191.79 616.5,189.12 620.5,187.89 624.5,187.81 628.5,192.00 632.5,198.45 636.5,203.49 640.5,212.16 644.5,219.82 648.5,227.09 652.5,235.04 656.5,241.49 660.5,245.23 664.5,249.44 668.5,250.92 672.5,253.14 676.5,255.15 680.5,254.53 684.5,250.06 688.5,245.89 692.5,243.49 696.5,240.56 700.5,235.45 704.5,230.84 708.5,226.67 712.5,222.79 716.5,218.80 720.5,212.49 724.5,206.72 728.5,197.94 732.5,189.21 736.5,181.31 740.5,170.82 744.5,160.44 748.5,149.71 752.5,139.80 756.5,130.96 760.5,122.41 764.5,114.09 768.5,106.43 772.5,98.46 776.5,93.31 780.5,90.32 784.5,89.25 788.5,86.51 792.5,84.01 796.5,86.46 800.5,90.53 804.5,95.46 808.5,102.45 812.5,107.91 816.5,113.73 820.5,118.33 824.5,121.60 828.5,125.99 832.5,130.69 836.5,133.48 840.5,137.73 844.5,146.27 848.5,156.00 852.5,162.90 856.5,167.17 860.5,168.91 864.5,167.33 868.5,168.26 872.5,172.16 876.5,177.57 880.5,187.03 884.5,196.44 888.5,203.76 892.5,213.87 896.5,225.34 900.5,231.94 904.5,238.15 908.5,243.10 912.5,247.83 916.5,254.74 920.5,259.48 924.5,263.59 928.5,264.56 932.5,263.88 936.5,263.76 940.5,269.61 944.5,278.40 948.5,286.49 952.5,293.97 956.5,301.79 960.5,307.74 964.5,315.74 968.5,325.69 972.5,332.81 976.5,338.89 980.5,345.89 984.5,352.52 988.5,360.80 992.5,361.25 996.5,355.94 1000.5,347.15 1004.5,337.91 1008.5,329.71 1012.5,321.69 1016.5,318.21 1020.5,314.35 1024.5,309.73 1028.5,305.41 1032.5,305.67 1036.5,307.01 1040.5,308.60 1044.5,309.44 1048.5,314.21 1052.5,317.29 1056.5,322.13 1060.5,323.45 1064.5,320.24 1068.5,318.84 1072.5,315.07 1076.5,312.08 1080.5,307.09 1084.5,306.15 1088.5,308.44 1092.5,308.48 1096.5,314.67 1100.5,318.38 1104.5,322.45 1108.5,328.29 1112.5,334.68 1116.5,344.71 1120.5,357.61 1124.5,366.36 1128.5,375.04" fill="none" stroke="#ff0000" stroke-width="1" shape-rendering="crispEdges" /><polyline points="4.5,460.63 8.5,472.19 12.5,481.14 16.5,488.97 20.5,491.86 24.5,490.30 28.5,488.43 32.5,478.57 36.5,457.79 40.5,434.21 44.5,408.64 48.5,388.79 52.5,361.50 56.5,334.57 60.5,320.00 64.5,307.43 68.5,296.29 72.5,287.93 76.5,283.64 80.5,285.64 84.5,286.16 88.5,286.63 92.5,291.17 96.5,293.16 100.5,290.09 104.5,282.26 108.5,274.97 112.5,269.30 116.5,263.91 120.5,255.86 124.5,249.33 128.5,244.16 132.5,242.97 136.5,242.43 140.5,236.70 144.5,227.34 148.5,213.67 152.5,208.59 156.5,203.47 160.5,197.99 164.5,190.96 168.5,191.56 172.5,194.99 176.5,197.31 180.5,193.51 184.5,192.20 188.5,183.97 192.5,182.54 196.5,177.40 200.5,172.07 204.5,178.40 208.5,184.57 212.5,197.89 216.5,213.99 220.5,225.91 224.5,237.86 228.5,247.71 232.5,250.24 236.5,251.53 240.5,245.93 244.5,247.36 248.5,245.39 252.5,240.16 256.5,239.04 260.5,238.44 264.5,239.33 268.5,240.96 272.5,241.10 276.5,248.24 280.5,258.49 284.5,267.57 288.5,272.30 292.5,277.07 296.5,280.33 300.5,275.39 304.5,266.76 308.5,263.79 312.5,260.97 316.5,260.23 320.5,266.13 324.5,265.00 328.5,269.33 332.5,281.24 336.5,287.70 340.5,285.57 344.5,292.54 348.5,293.86 352.5,305.37 356.5,318.33 360.5,322.37 364.5,319.53 368.5,326.93 372.5,327.86 376.5,327.84 380.5,332.39 384.5,332.67 388.5,341.54 392.5,346.73 396.5,349.63 400.5,351.90 404.5,356.67 408.5,348.31 412.5,338.74 416.5,317.76 420.5,306.40 424.5,294.91 428.5,281.24 432.5,264.83 436.5,257.46 440.5,252.06 444.5,253.00 448.5,255.73 452.5,259.87 456.5,262.51 460.5,265.93 464.5,266.44 468.5,266.71 472.5,264.00 476.5,258.41 480.5,250.09 484.5,242.49 488.5,233.51 492.5,227.51 496.5,223.24 500.5,214.54 504.5,206.09 508.5,196.57 512.5,193.70 516.5,191.27 520.5,186.56 524.5,181.24 528.5,184.11 532.5,190.26 536.5,198.33 540.5,203.34 544.5,208.47 548.5,212.79 552.5,217.79 556.5,218.41 560.5,221.47 564.5,223.83 568.5,225.29 572.5,225.89 576.5,221.53 580.5,216.77 584.5,206.30 588.5,196.09 592.5,186.69 596.5,174.90 600.5,166.41 604.5,167.69 608.5,168.47 612.5,177.29 616.5,182.16 620.5,189.09 624.5,200.73 628.5,217.59 632.5,229.21 636.5,238.50 640.5,247.03 644.5,257.49 648.5,265.10 652.5,269.36 656.5,265.40 660.5,261.24 664.5,260.37 668.5,254.81 672.5,248.79 676.5,245.20 680.5,239.70 684.5,234.73 688.5,230.53 692.5,226.61 696.5,226.30 700.5,222.11 704.5,216.47 708.5,213.64 712.5,210.84 716.5,207.07 720.5,198.37 724.5,187.14 728.5,173.77 732.5,161.94 736.5,148.99 740.5,130.80 744.5,113.80 748.5,101.04 752.5,92.46 756.5,88.16 760.5,82.89 764.5,79.20 768.5,82.06 772.5,83.11 776.5,85.57 780.5,88.19 784.5,90.34 788.5,90.14 792.5,88.81 796.5,90.86 800.5,97.94 804.5,105.34 808.5,116.71 812.5,125.49 816.5,137.31 820.5,147.84 824.5,152.34 828.5,154.03 832.5,156.04 836.5,150.24 840.5,149.97 844.5,155.23 848.5,164.16 852.5,173.46 856.5,180.31 860.5,181.79 864.5,184.41 868.5,186.54 872.5,189.10 876.5,190.99 880.5,200.60 884.5,212.56 888.5,225.74 892.5,243.33 896.5,264.14 900.5,274.77 904.5,285.31 908.5,285.60 912.5,283.10 916.5,283.73 920.5,275.63 924.5,263.04 928.5,254.34 932.5,242.44 936.5,241.91 940.5,256.11 944.5,273.07 948.5,297.36 952.5,324.90 956.5,349.23 960.5,373.04 964.5,389.56 968.5,395.26 972.5,392.54 976.5,380.41 980.5,366.87 984.5,355.81 988.5,348.56 992.5,332.94 996.5,316.63 1000.5,301.76 1004.5,295.41 1008.5,292.56 1012.5,287.56 1016.5,287.87 1020.5,295.76 1024.5,302.83 1028.5,309.07 1032.5,315.93 1036.5,321.46 1040.5,329.64 1044.5,331.01 1048.5,332.66 1052.5,331.74 1056.5,335.19 1060.5,330.97 1064.5,319.03 1068.5,308.04 1072.5,299.13 1076.5,291.50 1080.5,282.43 1084.5,277.11 1088.5,285.90 1092.5,297.93 1096.5,321.30 1100.5,337.63 1104.5,353.40 1108.5,374.14 1112.5,392.24 1116.5,403.53 1120.5,417.30 1124.5,411.43 1128.5,412.44" fill="none" stroke="#0000ff" stroke-width="1" shape-rendering="crispEdges" /><g shape-rendering="crispEdges"><rect x="4" y="611" width="1" height="36" fill="#c0c0c0"/><rect x="8" y="611" width="1" height="39" fill="#c0c0c0"/><rect x="12" y="611" width="1" height="41" fill="#c0c0c0"/><rect x="16" y="611" width="1" height="42" fill="#c0c0c0"/><rect x="20" y="611" width="1" height="39" fill="#c0c0c0"/><rect x="24" y="611" width="1" height="36" fill="#c0c0c0"/><rect x="28" y="611" width="1" height="33" fill="#c0c0c0"/><rect x="32" y="611" width="1" height="23" fill="#c0c0c0"/><rect x="36" y="611" width="1" height="14" fill="#c0c0c0"/><rect x="40" y="611" width="1" height="6" fill="#c0c0c0"/><rect x="44" y="609" width="1" height="2" fill="#c0c0c0"/><rect x="48" y="602" width="1" height="9" fill="#c0c0c0"/><rect x="52" y="593" width="1" height="18" fill="#c0c0c0"/><rect x="56" y="586" width="1" height="25" fill="#c0c0c0"/><rect x="60" y="581" width="1" height="30" fill="#c0c0c0"/><rect x="64" y="577" width="1" height="34" fill="#c0c0c0"/><rect x="68" y="574" width="1" height="37" fill="#c0c0c0"/><rect x="72" y="572" width="1" height="39" fill="#c0c0c0"/><rect x="76" y="573" width="1" height="38" fill="#c0c0c0"/><rect x="80" y="574" width="1" height="37" fill="#c0c0c0"/><rect x="84" y="574" width="1" height="37" fill="#c0c0c0"/><rect x="88" y="575" width="1" height="36" fill="#c0c0c0"/><rect x="92" y="578" width="1" height="33" fill="#c0c0c0"/><rect x="96" y="578" width="1" height="33" fill="#c0c0c0"/><rect x="100" y="577" width="1" height="34" fill="#c0c0c0"/><rect x="104" y="576" width="1" height="35" fill="#c0c0c0"/><rect x="108" y="574" width="1" height="37" fill="#c0c0c0"/><rect x="112" y="574" width="1" height="37" fill="#c0c0c0"/><rect x="116" y="574" width="1" height="37" fill="#c0c0c0"/><rect x="120" y="576" width="1" height="35" fill="#c0c0c0"/><rect x="124" y="576" width="1" height="35" fill="#c0c0c0"/><rect x="128" y="575" width="1" height="36" fill="#c0c0c0"/><rect x="132" y="576" width="1" height="35" fill="#c0c0c0"/><rect x="136" y="577" width="1" height="34" fill="#c0c0c0"/><rect x="140" y="576" width="1" height="35" fill="#c0c0c0"/><rect x="144" y="573" width="1" height="38" fill="#c0c0c0"/><rect x="148" y="570" width="1" height="41" fill="#c0c0c0"/><rect x="152" y="572" width="1" height="39" fill="#c0c0c0"/><rect x="156" y="572" width="1" height="39" fill="#c0c0c0"/><rect x="160" y="573" width="1" height="38" fill="#c0c0c0"/><rect x="164" y="574" width="1" height="37" fill="#c0c0c0"/><rect x="168" y="577" width="1" height="34" fill="#c0c0c0"/><rect x="172" y="579" width="1" height="32" fill="#c0c0c0"/><rect x="176" y="579" width="1" height="32" fill="#c0c0c0"/><rect x="180" y="579" width="1" height="32" fill="#c0c0c0"/><rect x="184" y="580" width="1" height="31" fill="#c0c0c0"/><rect x="188" y="578" width="1" height="33" fill="#c0c0c0"/><rect x="192" y="579" width="1" height="32" fill="#c0c0c0"/><rect x="196" y="580" width="1" height="31" fill="#c0c0c0"/><rect x="200" y="581" width="1" height="30" fill="#c0c0c0"/><rect x="204" y="587" width="1" height="24" fill="#c0c0c0"/><rect x="208" y="591" width="1" height="20" fill="#c0c0c0"/><rect x="212" y="599" width="1" height="12" fill="#c0c0c0"/><rect x="216" y="604" width="1" height="7" fill="#c0c0c0"/><rect x="220" y="608" width="1" height="3" fill="#c0c0c0"/><rect x="224" y="611" width="1" height="1" fill="#c0c0c0"/><rect x="228" y="611" width="1" height="1" fill="#c0c0c0"/><rect x="232" y="611" width="1" height="2" fill="#c0c0c0"/><rect x="236" y="611" width="1" height="2" fill="#c0c0c0"/><rect x="240" y="611" width="1" height="2" fill="#c0c0c0"/><rect x="244" y="611" width="1" height="5" fill="#c0c0c0"/><rect x="248" y="611" width="1" height="5" fill="#c0c0c0"/><rect x="252" y="611" width="1" height="4" fill="#c0c0c0"/><rect x="256" y="611" width="1" height="3" fill="#c0c0c0"/><rect x="260" y="611" width="1" height="3" fill="#c0c0c0"/><rect x="264" y="611" width="1" height="3" fill="#c0c0c0"/><rect x="268" y="611" width="1" height="3" fill="#c0c0c0"/><rect x="272" y="611" width="1" height="6" fill="#c0c0c0"/><rect x="276" y="611" width="1" height="10" fill="#c0c0c0"/><rect x="280" y="611" width="1" height="13" fill="#c0c0c0"/><rect x="284" y="611" width="1" height="15" fill="#c0c0c0"/><rect x="288" y="611" width="1" height="14" fill="#c0c0c0"/><rect x="292" y="611" width="1" height="14" fill="#c0c0c0"/><rect x="296" y="611" width="1" height="13" fill="#c0c0c0"/><rect x="300" y="611" width="1" height="9" fill="#c0c0c0"/><rect x="304" y="611" width="1" height="7" fill="#c0c0c0"/><rect x="308" y="611" width="1" height="8" fill="#c0c0c0"/><rect x="312" y="611" width="1" height="8" fill="#c0c0c0"/><rect x="316" y="611" width="1" height="8" fill="#c0c0c0"/><rect x="320" y="611" width="1" height="11" fill="#c0c0c0"/><rect x="324" y="611" width="1" height="9" fill="#c0c0c0"/><rect x="328" y="611" width="1" height="9" fill="#c0c0c0"/><rect x="332" y="611" width="1" height="12" fill="#c0c0c0"/><rect x="336" y="611" width="1" height="15" fill="#c0c0c0"/><rect x="340" y="611" width="1" height="12" fill="#c0c0c0"/><rect x="344" y="611" width="1" height="14" fill="#c0c0c0"/><rect x="348" y="611" width="1" height="16" fill="#c0c0c0"/><rect x="352" y="611" width="1" height="19" fill="#c0c0c0"/><rect x="356" y="611" width="1" height="22" fill="#c0c0c0"/><rect x="360" y="611" width="1" height="24" fill="#c0c0c0"/><rect x="364" y="611" width="1" height="21" fill="#c0c0c0"/><rect x="368" y="611" width="1" height="19" fill="#c0c0c0"/><rect x="372" y="611" width="1" height="19" fill="#c0c0c0"/><rect x="376" y="611" width="1" height="18" fill="#c0c0c0"/><rect x="380" y="611" width="1" height="21" fill="#c0c0c0"/><rect x="384" y="611" width="1" height="23" fill="#c0c0c0"/><rect x="388" y="611" width="1" height="28" fill="#c0c0c0"/><rect x="392" y="611" width="1" height="25" fill="#c0c0c0"/><rect x="396" y="611" width="1" height="23" fill="#c0c0c0"/><rect x="400" y="611" width="1" height="21" fill="#c0c0c0"/><rect x="404" y="611" width="1" height="21" fill="#c0c0c0"/><rect x="408" y="611" width="1" height="17" fill="#c0c0c0"/><rect x="412" y="611" width="1" height="12" fill="#c0c0c0"/><rect x="416" y="611" width="1" height="6" fill="#c0c0c0"/><rect x="420" y="611" width="1" height="1" fill="#c0c0c0"/><rect x="424" y="606" width="1" height="5" fill="#c0c0c0"/><rect x="428" y="602" width="1" height="9" fill="#c0c0c0"/><rect x="432" y="598" width="1" height="13" fill="#c0c0c0"/><rect x="436" y="597" width="1" height="14" fill="#c0c0c0"/><rect x="440" y="596" width="1" height="15" fill="#c0c0c0"/><rect x="444" y="597" width="1" height="14" fill="#c0c0c0"/><rect x="448" y="598" width="1" height="13" fill="#c0c0c0"/><rect x="452" y="599" width="1" height="12" fill="#c0c0c0"/><rect x="456" y="599" width="1" height="12" fill="#c0c0c0"/><rect x="460" y="599" width="1" height="12" fill="#c0c0c0"/><rect x="464" y="599" width="1" height="12" fill="#c0c0c0"/><rect x="468" y="599" width="1" height="12" fill="#c0c0c0"/><rect x="472" y="598" width="1" height="13" fill="#c0c0c0"/><rect x="476" y="597" width="1" height="14" fill="#c0c0c0"/><rect x="480" y="595" width="1" height="16" fill="#c0c0c0"/><rect x="484" y="592" width="1" height="19" fill="#c0c0c0"/><rect x="488" y="590" width="1" height="21" fill="#c0c0c0"/><rect x="492" y="590" width="1" height="21" fill="#c0c0c0"/><rect x="496" y="590" width="1" height="21" fill="#c0c0c0"/><rect x="500" y="588" width="1" height="23" fill="#c0c0c0"/><rect x="504" y="586" width="1" height="25" fill="#c0c0c0"/><rect x="508" y="582" width="1" height="29" fill="#c0c0c0"/><rect x="512" y="582" width="1" height="29" fill="#c0c0c0"/><rect x="516" y="583" width="1" height="28" fill="#c0c0c0"/><rect x="520" y="584" width="1" height="27" fill="#c0c0c0"/><rect x="524" y="585" width="1" height="26" fill="#c0c0c0"/><rect x="528" y="588" width="1" height="23" fill="#c0c0c0"/><rect x="532" y="591" width="1" height="20" fill="#c0c0c0"/><rect x="536" y="593" width="1" height="18" fill="#c0c0c0"/><rect x="540" y="595" width="1" height="16" fill="#c0c0c0"/><rect x="544" y="598" width="1" height="13" fill="#c0c0c0"/><rect x="548" y="599" width="1" height="12" fill="#c0c0c0"/><rect x="552" y="601" width="1" height="10" fill="#c0c0c0"/><rect x="556" y="602" width="1" height="9" fill="#c0c0c0"/><rect x="560" y="605" width="1" height="6" fill="#c0c0c0"/><rect x="564" y="606" width="1" height="5" fill="#c0c0c0"/><rect x="568" y="608" width="1" height="3" fill="#c0c0c0"/><rect x="572" y="608" width="1" height="3" fill="#c0c0c0"/><rect x="576" y="606" width="1" height="5" fill="#c0c0c0"/><rect x="580" y="604" width="1" height="7" fill="#c0c0c0"/><rect x="584" y="599" width="1" height="12" fill="#c0c0c0"/><rect x="588" y="597" width="1" height="14" fill="#c0c0c0"/><rect x="592" y="595" width="1" height="16" fill="#c0c0c0"/><rect x="596" y="593" width="1" height="18" fill="#c0c0c0"/><rect x="600" y="593" width="1" height="18" fill="#c0c0c0"/><rect x="604" y="595" width="1" height="16" fill="#c0c0c0"/><rect x="608" y="598" width="1" height="13" fill="#c0c0c0"/><rect x="612" y="600" width="1" height="11" fill="#c0c0c0"/><rect x="616" y="602" width="1" height="9" fill="#c0c0c0"/><rect x="620" y="604" width="1" height="7" fill="#c0c0c0"/><rect x="624" y="608" width="1" height="3" fill="#c0c0c0"/><rect x="628" y="611" width="1" height="4" fill="#c0c0c0"/><rect x="632" y="611" width="1" height="9" fill="#c0c0c0"/><rect x="636" y="611" width="1" height="11" fill="#c0c0c0"/><rect x="640" y="611" width="1" height="13" fill="#c0c0c0"/><rect x="644" y="611" width="1" height="16" fill="#c0c0c0"/><rect x="648" y="611" width="1" height="16" fill="#c0c0c0"/><rect x="652" y="611" width="1" height="16" fill="#c0c0c0"/><rect x="656" y="611" width="1" height="16" fill="#c0c0c0"/><rect x="660" y="611" width="1" height="15" fill="#c0c0c0"/><rect x="664" y="611" width="1" height="14" fill="#c0c0c0"/><rect x="668" y="611" width="1" height="11" fill="#c0c0c0"/><rect x="672" y="611" width="1" height="10" fill="#c0c0c0"/><rect x="676" y="611" width="1" height="9" fill="#c0c0c0"/><rect x="680" y="611" width="1" height="6" fill="#c0c0c0"/><rect x="684" y="611" width="1" height="4" fill="#c0c0c0"/><rect x="688" y="611" width="1" height="3" fill="#c0c0c0"/><rect x="692" y="611" width="1" height="2" fill="#c0c0c0"/><rect x="696" y="611" width="1" height="1" fill="#c0c0c0"/><rect x="700" y="610" width="1" height="1" fill="#c0c0c0"/><rect x="704" y="607" width="1" height="4" fill="#c0c0c0"/><rect x="708" y="606" width="1" height="5" fill="#c0c0c0"/><rect x="712" y="605" width="1" height="6" fill="#c0c0c0"/><rect x="716" y="603" width="1" height="8" fill="#c0c0c0"/><rect x="720" y="600" width="1" height="11" fill="#c0c0c0"/><rect x="724" y="596" width="1" height="15" fill="#c0c0c0"/><rect x="728" y="590" width="1" height="21" fill="#c0c0c0"/><rect x="732" y="586" width="1" height="25" fill="#c0c0c0"/><rect x="736" y="583" width="1" height="28" fill="#c0c0c0"/><rect x="740" y="578" width="1" height="33" fill="#c0c0c0"/><rect x="744" y="574" width="1" height="37" fill="#c0c0c0"/><rect x="748" y="572" width="1" height="39" fill="#c0c0c0"/><rect x="752" y="571" width="1" height="40" fill="#c0c0c0"/><rect x="756" y="571" width="1" height="40" fill="#c0c0c0"/><rect x="760" y="571" width="1" height="40" fill="#c0c0c0"/><rect x="764" y="572" width="1" height="39" fill="#c0c0c0"/><rect x="768" y="574" width="1" height="37" fill="#c0c0c0"/><rect x="772" y="575" width="1" height="36" fill="#c0c0c0"/><rect x="776" y="577" width="1" height="34" fill="#c0c0c0"/><rect x="780" y="580" width="1" height="31" fill="#c0c0c0"/><rect x="784" y="582" width="1" height="29" fill="#c0c0c0"/><rect x="788" y="582" width="1" height="29" fill="#c0c0c0"/><rect x="792" y="583" width="1" height="28" fill="#c0c0c0"/><rect x="796" y="586" width="1" height="25" fill="#c0c0c0"/><rect x="800" y="591" width="1" height="20" fill="#c0c0c0"/><rect x="804" y="596" width="1" height="15" fill="#c0c0c0"/><rect x="808" y="603" width="1" height="8" fill="#c0c0c0"/><rect x="812" y="607" width="1" height="4" fill="#c0c0c0"/><rect x="816" y="610" width="1" height="1" fill="#c0c0c0"/><rect x="820" y="611" width="1" height="1" fill="#c0c0c0"/><rect x="824" y="611" width="1" height="1" fill="#c0c0c0"/><rect x="828" y="611" width="1" height="2" fill="#c0c0c0"/><rect x="832" y="611" width="1" height="3" fill="#c0c0c0"/><rect x="836" y="611" width="1" height="3" fill="#c0c0c0"/><rect x="840" y="611" width="1" height="4" fill="#c0c0c0"/><rect x="844" y="611" width="1" height="9" fill="#c0c0c0"/><rect x="848" y="611" width="1" height="13" fill="#c0c0c0"/><rect x="852" y="611" width="1" height="16" fill="#c0c0c0"/><rect x="856" y="611" width="1" height="16" fill="#c0c0c0"/><rect x="860" y="611" width="1" height="15" fill="#c0c0c0"/><rect x="864" y="611" width="1" height="13" fill="#c0c0c0"/><rect x="868" y="611" width="1" height="12" fill="#c0c0c0"/><rect x="872" y="611" width="1" height="15" fill="#c0c0c0"/><rect x="876" y="611" width="1" height="18" fill="#c0c0c0"/><rect x="880" y="611" width="1" height="24" fill="#c0c0c0"/><rect x="884" y="611" width="1" height="28" fill="#c0c0c0"/><rect x="888" y="611" width="1" height="30" fill="#c0c0c0"/><rect x="892" y="611" width="1" height="33" fill="#c0c0c0"/><rect x="896" y="611" width="1" height="38" fill="#c0c0c0"/><rect x="900" y="611" width="1" height="39" fill="#c0c0c0"/><rect x="904" y="611" width="1" height="40" fill="#c0c0c0"/><rect x="908" y="611" width="1" height="39" fill="#c0c0c0"/><rect x="912" y="611" width="1" height="36" fill="#c0c0c0"/><rect x="916" y="611" width="1" height="34" fill="#c0c0c0"/><rect x="920" y="611" width="1" height="29" fill="#c0c0c0"/><rect x="924" y="611" width="1" height="24" fill="#c0c0c0"/><rect x="928" y="611" width="1" height="21" fill="#c0c0c0"/><rect x="932" y="611" width="1" height="17" fill="#c0c0c0"/><rect x="936" y="611" width="1" height="18" fill="#c0c0c0"/><rect x="940" y="611" width="1" height="25" fill="#c0c0c0"/><rect x="944" y="611" width="1" height="33" fill="#c0c0c0"/><rect x="948" y="611" width="1" height="40" fill="#c0c0c0"/><rect x="952" y="611" width="1" height="47" fill="#c0c0c0"/><rect x="956" y="611" width="1" height="50" fill="#c0c0c0"/><rect x="960" y="611" width="1" height="50" fill="#c0c0c0"/><rect x="964" y="611" width="1" height="50" fill="#c0c0c0"/><rect x="968" y="611" width="1" height="51" fill="#c0c0c0"/><rect x="972" y="611" width="1" height="48" fill="#c0c0c0"/><rect x="976" y="611" width="1" height="41" fill="#c0c0c0"/><rect x="980" y="611" width="1" height="36" fill="#c0c0c0"/><rect x="984" y="611" width="1" height="31" fill="#c0c0c0"/><rect x="988" y="611" width="1" height="28" fill="#c0c0c0"/><rect x="992" y="611" width="1" height="21" fill="#c0c0c0"/><rect x="996" y="611" width="1" height="16" fill="#c0c0c0"/><rect x="1000" y="611" width="1" height="9" fill="#c0c0c0"/><rect x="1004" y="611" width="1" height="5" fill="#c0c0c0"/><rect x="1008" y="611" width="1" height="5" fill="#c0c0c0"/><rect x="1012" y="611" width="1" height="3" fill="#c0c0c0"/><rect x="1016" y="611" width="1" height="5" fill="#c0c0c0"/><rect x="1020" y="611" width="1" height="7" fill="#c0c0c0"/><rect x="1024" y="611" width="1" height="8" fill="#c0c0c0"/><rect x="1028" y="611" width="1" height="6" fill="#c0c0c0"/><rect x="1032" y="611" width="1" height="6" fill="#c0c0c0"/><rect x="1036" y="611" width="1" height="8" fill="#c0c0c0"/><rect x="1040" y="611" width="1" height="10" fill="#c0c0c0"/><rect x="1044" y="611" width="1" height="10" fill="#c0c0c0"/><rect x="1048" y="611" width="1" height="11" fill="#c0c0c0"/><rect x="1052" y="611" width="1" height="10" fill="#c0c0c0"/><rect x="1056" y="611" width="1" height="10" fill="#c0c0c0"/><rect x="1060" y="611" width="1" height="5" fill="#c0c0c0"/><rect x="1064" y="611" width="1" height="1" fill="#c0c0c0"/><rect x="1068" y="607" width="1" height="4" fill="#c0c0c0"/><rect x="1072" y="606" width="1" height="5" fill="#c0c0c0"/><rect x="1076" y="605" width="1" height="6" fill="#c0c0c0"/><rect x="1080" y="603" width="1" height="8" fill="#c0c0c0"/><rect x="1084" y="603" width="1" height="8" fill="#c0c0c0"/><rect x="1088" y="608" width="1" height="3" fill="#c0c0c0"/><rect x="1092" y="611" width="1" height="1" fill="#c0c0c0"/><rect x="1096" y="611" width="1" height="11" fill="#c0c0c0"/><rect x="1100" y="611" width="1" height="15" fill="#c0c0c0"/><rect x="1104" y="611" width="1" height="19" fill="#c0c0c0"/><rect x="1108" y="611" width="1" height="23" fill="#c0c0c0"/><rect x="1112" y="611" width="1" height="26" fill="#c0c0c0"/><rect x="1116" y="611" width="1" height="29" fill="#c0c0c0"/><rect x="1120" y="611" width="1" height="32" fill="#c0c0c0"/><rect x="1124" y="611" width="1" height="30" fill="#c0c0c0"/><rect x="1128" y="611" width="1" height="29" fill="#c0c0c0"/></g><polyline points="4.5,648.49 8.5,648.37 12.5,648.56 16.5,648.94 20.5,649.04 24.5,648.86 28.5,648.45 32.5,647.05 36.5,644.74 40.5,641.36 44.5,636.77 48.5,631.24 52.5,624.52 56.5,617.39 60.5,610.06 64.5,602.63 68.5,595.91 72.5,590.00 76.5,585.19 80.5,581.29 84.5,578.14 88.5,576.13 92.5,575.22 96.5,574.97 100.5,574.97 104.5,575.16 108.5,575.37 112.5,575.42 116.5,575.47 120.5,575.65 124.5,575.81 128.5,575.51 132.5,575.26 136.5,575.28 140.5,575.32 144.5,575.23 148.5,574.80 152.5,574.51 156.5,574.06 160.5,573.77 164.5,573.66 168.5,573.73 172.5,573.93 176.5,574.26 180.5,574.91 184.5,575.97 188.5,576.64 192.5,577.49 196.5,578.28 200.5,579.11 204.5,580.22 208.5,581.60 212.5,583.84 216.5,586.60 220.5,589.81 224.5,593.57 228.5,597.27 232.5,600.90 236.5,604.43 240.5,607.35 244.5,610.08 248.5,612.03 252.5,613.21 256.5,613.84 260.5,614.10 264.5,614.27 268.5,614.38 272.5,614.76 276.5,615.62 280.5,616.46 284.5,617.48 288.5,618.63 292.5,619.81 296.5,620.91 300.5,621.61 304.5,621.99 308.5,622.20 312.5,622.03 316.5,621.50 320.5,621.14 324.5,620.64 328.5,620.07 332.5,620.02 336.5,620.62 340.5,621.19 344.5,621.88 348.5,622.72 352.5,623.92 356.5,625.08 360.5,626.66 364.5,628.02 368.5,628.80 372.5,629.23 376.5,629.92 380.5,630.75 384.5,631.50 388.5,632.50 392.5,632.86 396.5,632.73 400.5,632.71 404.5,632.86 408.5,632.65 412.5,631.95 416.5,630.21 420.5,627.71 424.5,624.13 428.5,620.31 432.5,616.41 436.5,612.61 440.5,608.68 444.5,605.27 448.5,602.51 452.5,600.60 456.5,599.24 460.5,598.43 464.5,598.16 468.5,598.21 472.5,598.33 476.5,598.40 480.5,598.17 484.5,597.51 488.5,596.44 492.5,595.44 496.5,594.48 500.5,593.26 504.5,591.79 508.5,590.00 512.5,588.38 516.5,587.04 520.5,586.12 524.5,585.55 528.5,585.30 532.5,585.34 536.5,585.85 540.5,586.94 544.5,588.65 548.5,590.55 552.5,592.61 556.5,594.68 560.5,596.95 564.5,599.06 568.5,600.94 572.5,602.65 576.5,603.80 580.5,604.49 584.5,604.43 588.5,603.97 592.5,603.21 596.5,601.87 600.5,600.37 604.5,599.02 608.5,597.81 612.5,597.17 616.5,596.94 620.5,597.54 624.5,598.71 628.5,600.85 632.5,603.82 636.5,607.07 640.5,610.27 644.5,613.50 648.5,616.56 652.5,619.39 656.5,621.92 660.5,623.96 664.5,625.14 668.5,625.42 672.5,625.23 676.5,624.72 680.5,623.65 684.5,622.29 688.5,620.74 692.5,619.15 696.5,617.57 700.5,615.81 704.5,614.16 708.5,612.52 712.5,610.89 716.5,609.38 720.5,607.70 724.5,605.74 728.5,603.23 732.5,600.41 736.5,597.46 740.5,594.18 744.5,590.67 748.5,587.03 752.5,583.46 756.5,580.21 760.5,577.45 764.5,575.42 768.5,574.04 772.5,573.13 776.5,573.01 780.5,573.61 784.5,574.67 788.5,575.88 792.5,577.16 796.5,578.82 800.5,580.91 804.5,583.34 808.5,586.46 812.5,589.76 816.5,593.12 820.5,596.43 824.5,599.74 828.5,603.08 832.5,606.24 836.5,608.85 840.5,611.02 844.5,612.87 848.5,614.77 852.5,616.62 856.5,618.39 860.5,619.95 864.5,621.22 868.5,622.19 872.5,623.51 876.5,625.01 880.5,626.70 884.5,628.42 888.5,630.07 892.5,631.97 896.5,634.53 900.5,637.45 904.5,640.59 908.5,643.23 912.5,645.23 916.5,646.35 920.5,646.39 924.5,645.71 928.5,644.30 932.5,641.91 936.5,639.51 940.5,637.84 944.5,637.21 948.5,637.66 952.5,639.09 956.5,641.47 960.5,644.36 964.5,647.65 968.5,651.45 972.5,654.82 976.5,656.55 980.5,656.85 984.5,655.91 988.5,653.85 992.5,650.64 996.5,646.79 1000.5,642.25 1004.5,637.16 1008.5,632.33 1012.5,628.10 1016.5,624.65 1020.5,621.88 1024.5,619.61 1028.5,617.97 1032.5,616.91 1036.5,616.74 1040.5,617.26 1044.5,617.91 1048.5,618.86 1052.5,619.44 1056.5,619.78 1060.5,619.52 1064.5,618.82 1068.5,617.77 1072.5,616.28 1076.5,614.57 1080.5,612.47 1084.5,610.34 1088.5,608.87 1092.5,607.88 1096.5,608.46 1100.5,610.13 1104.5,612.66 1108.5,615.76 1112.5,619.29 1116.5,623.43 1120.5,627.87 1124.5,631.55 1128.5,634.71" fill="none" stroke="#ff0000" stroke-width="1" shape-rendering="crispEdges" stroke-dasharray="3,3"/><polyline points="4.5,746.47 8.5,757.32 12.5,757.70 16.5,757.36 20.5,744.06 24.5,742.68 28.5,743.24 32.5,723.46 36.5,720.90 40.5,718.09 44.5,715.70 48.5,715.21 52.5,707.17 56.5,708.69 60.5,708.69 64.5,708.55 68.5,707.47 72.5,709.21 76.5,718.55 80.5,715.93 84.5,714.85 88.5,714.79 92.5,725.05 96.5,719.21 100.5,713.12 104.5,711.71 108.5,710.06 112.5,712.44 116.5,713.15 120.5,716.91 124.5,713.60 128.5,709.13 132.5,717.59 136.5,716.49 140.5,710.06 144.5,705.90 148.5,702.61 152.5,719.49 156.5,715.47 160.5,721.00 164.5,717.97 168.5,724.99 172.5,724.13 176.5,718.12 180.5,719.11 184.5,718.22 188.5,712.21 192.5,722.84 196.5,722.20 200.5,721.04 204.5,736.17 208.5,736.64 212.5,746.76 216.5,743.55 220.5,744.17 224.5,743.28 228.5,737.30 232.5,737.63 236.5,735.51 240.5,734.74 244.5,745.36 248.5,738.58 252.5,731.30 256.5,733.89 260.5,735.30 264.5,736.39 268.5,737.27 272.5,745.25 276.5,751.94 280.5,750.39 284.5,750.61 288.5,740.72 292.5,741.86 296.5,738.94 300.5,729.04 304.5,729.86 308.5,741.10 312.5,741.67 316.5,737.68 320.5,750.62 324.5,734.07 328.5,736.06 332.5,747.51 336.5,746.80 340.5,732.95 344.5,742.75 348.5,744.54 352.5,746.91 356.5,749.84 360.5,748.02 364.5,736.23 368.5,738.83 372.5,740.22 376.5,741.06 380.5,749.45 384.5,746.47 388.5,754.66 392.5,738.07 396.5,737.62 400.5,738.12 404.5,741.98 408.5,732.90 412.5,729.37 416.5,724.93 420.5,723.45 424.5,722.90 428.5,720.77 432.5,721.44 436.5,726.21 440.5,724.93 444.5,729.72 448.5,730.62 452.5,732.46 456.5,726.71 460.5,729.08 464.5,728.40 468.5,726.28 472.5,725.37 476.5,720.89 480.5,717.77 484.5,713.68 488.5,713.30 492.5,721.10 496.5,722.82 500.5,714.24 504.5,711.08 508.5,707.29 512.5,718.72 516.5,719.25 520.5,720.12 524.5,720.12 528.5,729.32 532.5,732.17 536.5,729.97 540.5,732.76 544.5,733.62 548.5,732.22 552.5,734.32 556.5,731.04 560.5,741.32 564.5,736.34 568.5,736.70 572.5,734.96 576.5,720.66 580.5,721.62 584.5,709.32 588.5,720.57 592.5,719.15 596.5,715.35 600.5,723.07 604.5,733.23 608.5,732.81 612.5,735.60 616.5,735.25 620.5,738.24 624.5,743.74 628.5,756.95 632.5,754.40 636.5,747.68 640.5,748.48 644.5,751.48 648.5,747.03 652.5,744.56 656.5,743.87 660.5,740.61 664.5,742.37 668.5,731.08 672.5,734.45 676.5,736.58 680.5,729.48 684.5,730.28 688.5,729.36 692.5,732.50 696.5,730.74 700.5,723.92 704.5,722.40 708.5,722.40 712.5,723.66 716.5,719.93 720.5,710.95 724.5,705.44 728.5,699.15 732.5,702.81 736.5,701.32 740.5,695.85 744.5,695.71 748.5,697.15 752.5,701.55 756.5,700.98 760.5,700.91 764.5,703.16 768.5,710.91 772.5,707.08 776.5,714.73 780.5,719.56 784.5,717.41 788.5,712.02 792.5,710.63 796.5,729.17 800.5,737.73 804.5,742.65 808.5,752.66 812.5,743.17 816.5,744.44 820.5,739.33 824.5,736.75 828.5,737.43 832.5,742.94 836.5,735.85 840.5,740.55 844.5,751.88 848.5,754.43 852.5,752.56 856.5,746.55 860.5,739.03 864.5,735.57 868.5,738.92 872.5,750.58 876.5,752.10 880.5,760.91 884.5,761.11 888.5,756.37 892.5,759.91 896.5,764.91 900.5,755.95 904.5,757.06 908.5,749.51 912.5,743.88 916.5,745.98 920.5,734.57 924.5,735.10 928.5,735.69 932.5,731.32 936.5,745.20 940.5,758.39 944.5,761.71 948.5,762.87 952.5,765.51 956.5,759.66 960.5,754.34 964.5,755.22 968.5,756.56 972.5,748.05 976.5,735.34 980.5,738.21 984.5,737.58 988.5,739.06 992.5,728.03 996.5,729.01 1000.5,725.16 1004.5,726.26 1008.5,735.54 1012.5,731.68 1016.5,740.79 1020.5,740.92 1024.5,740.57 1028.5,734.29 1032.5,736.28 1036.5,742.80 1040.5,742.95 1044.5,742.00 1048.5,742.62 1052.5,736.76 1056.5,738.04 1060.5,726.10 1064.5,720.97 1068.5,723.26 1072.5,726.73 1076.5,730.23 1080.5,723.19 1084.5,732.05 1088.5,744.01 1092.5,743.66 1096.5,757.42 1100.5,748.17 1104.5,749.30 1108.5,750.13 1112.5,752.06 1116.5,753.00 1120.5,755.52 1124.5,742.03 1128.5,743.88" fill="none" stroke="#1e90ff" stroke-width="1" shape-rendering="crispEdges" /><rect x="3" y="23" width="1417" height="1" fill="#000" /><rect x="3" y="562" width="1417" height="1" fill="#000" /><rect x="3" y="23" width="1" height="540" fill="#000" /><rect x="1419" y="23" width="1" height="540" fill="#000" /><rect x="3" y="564" width="1417" height="1" fill="#000" /><rect x="3" y="667" width="1417" height="1" fill="#000" /><rect x="3" y="564" width="1" height="104" fill="#000" /><rect x="1419" y="564" width="1" height="104" fill="#000" /><rect x="3" y="669" width="1417" height="1" fill="#000" /><rect x="3" y="799" width="1417" height="1" fill="#000" /><rect x="3" y="669" width="1" height="131" fill="#000" /><rect x="1419" y="669" width="1" height="131" fill="#000" /><rect x="3" y="360" width="7" height="7" fill="#00ff00" /><rect x="6" y="363" width="1" height="1" fill="#ffffff" /><rect x="1413" y="360" width="7" height="7" fill="#00ff00" /><rect x="1416" y="363" width="1" height="1" fill="#ffffff" /><rect x="3" y="546" width="7" height="7" fill="#0000ff" /><rect x="6" y="549" width="1" height="1" fill="#ffffff" /><rect x="1413" y="546" width="7" height="7" fill="#0000ff" /><rect x="1416" y="549" width="1" height="1" fill="#ffffff" /><rect x="1420" y="31" width="2" height="1" fill="#000" /><text transform="translate(1424.81,35) scale(0.9200,1)" font-size="10" fill="#000" >1.02630</text><rect x="1420" y="64" width="2" height="1" fill="#000" /><text transform="translate(1424.81,68) scale(0.9200,1)" font-size="10" fill="#000" >1.02170</text><rect x="1420" y="97" width="2" height="1" fill="#000" /><text transform="translate(1424.81,101) scale(0.9200,1)" font-size="10" fill="#000" >1.01710</text><rect x="1420" y="130" width="2" height="1" fill="#000" /><text transform="translate(1424.81,134) scale(0.9200,1)" font-size="10" fill="#000" >1.01250</text><rect x="1420" y="163" width="2" height="1" fill="#000" /><text transform="translate(1424.81,167) scale(0.9200,1)" font-size="10" fill="#000" >1.00790</text><rect x="1420" y="196" width="2" height="1" fill="#000" /><text transform="translate(1424.81,200) scale(0.9200,1)" font-size="10" fill="#000" >1.00330</text><rect x="1420" y="229" width="2" height="1" fill="#000" /><text transform="translate(1425.03,233) scale(0.9200,1)" font-size="10" fill="#000" >0.99870</text><rect x="1420" y="262" width="2" height="1" fill="#000" /><text transform="translate(1425.03,266) scale(0.9200,1)" font-size="10" fill="#000" >0.99410</text><rect x="1420" y="295" width="2" height="1" fill="#000" /><text transform="translate(1425.03,299) scale(0.9200,1)" font-size="10" fill="#000" >0.98950</text><rect x="1420" y="328" width="2" height="1" fill="#000" /><text transform="translate(1425.03,332) scale(0.9200,1)" font-size="10" fill="#000" >0.98480</text><rect x="1420" y="361" width="2" height="1" fill="#000" /><text transform="translate(1425.03,365) scale(0.9200,1)" font-size="10" fill="#000" >0.98020</text><rect x="1420" y="394" width="2" height="1" fill="#000" /><text transform="translate(1425.03,398) scale(0.9200,1)" font-size="10" fill="#000" >0.97560</text><rect x="1420" y="427" width="2" height="1" fill="#000" /><text transform="translate(1425.03,431) scale(0.9200,1)" font-size="10" fill="#000" >0.97100</text><rect x="1420" y="460" width="2" height="1" fill="#000" /><text transform="translate(1425.03,464) scale(0.9200,1)" font-size="10" fill="#000" >0.96640</text><rect x="1420" y="493" width="2" height="1" fill="#000" /><text transform="translate(1425.03,497) scale(0.9200,1)" font-size="10" fill="#000" >0.96180</text><rect x="1420" y="526" width="2" height="1" fill="#000" /><text transform="translate(1425.03,530) scale(0.9200,1)" font-size="10" fill="#000" >0.95720</text><rect x="1420" y="559" width="2" height="1" fill="#000" /><text transform="translate(1425.03,563) scale(0.9200,1)" font-size="10" fill="#000" >0.95260</text><rect x="1421" y="127" width="41" height="11" fill="#ff0000" /><text transform="translate(1424.81,136) scale(0.9200,1)" font-size="10" fill="#fff" >1.01205</text><rect x="1421" y="207" width="41" height="11" fill="#ff0000" /><text transform="translate(1424.81,216) scale(0.9200,1)" font-size="10" fill="#fff" >1.00106</text><rect x="1421" y="357" width="41" height="11" fill="#00ff00" /><text transform="translate(1425.03,366) scale(0.9200,1)" font-size="10" fill="#fff" >0.98004</text><rect x="1421" y="396" width="41" height="11" fill="#000000" /><text transform="translate(1425.03,405) scale(0.9200,1)" font-size="10" fill="#fff" >0.97470</text><rect x="1421" y="429" width="41" height="11" fill="#0000ff" /><text transform="translate(1425.03,438) scale(0.9200,1)" font-size="10" fill="#fff" >0.97001</text><rect x="1421" y="543" width="41" height="11" fill="#0000ff" /><text transform="translate(1425.03,552) scale(0.9200,1)" font-size="10" fill="#fff" >0.95402</text><rect x="7" y="30" width="7" height="1" fill="#000" /><rect x="8" y="31" width="5" height="1" fill="#000" /><rect x="9" y="32" width="3" height="1" fill="#000" /><rect x="10" y="33" width="1" height="1" fill="#000" /><text transform="translate(18.68,35) scale(0.9661,1)" font-size="10" fill="#000" >USDCHF-,Daily</text><text transform="translate(92.53,35) scale(0.9254,1)" font-size="10" fill="#000" >0.97616 0.97659 0.97458 0.97470</text><path d="M1130,24 h9 l-4.5,5 z" fill="#c0c0c0"/><text transform="translate(7.75,577) scale(0.9359,1)" font-size="10" fill="#000" >MACD(12,26,9) -0.003990 -0.003252</text><text transform="translate(1422.73,575) scale(0.9242,1)" font-size="10" fill="#000" >0.006286</text><rect x="1420" y="566" width="2" height="1" fill="#000" /><text transform="translate(1422.73,615) scale(0.9250,1)" font-size="10" fill="#000" >0.00</text><rect x="1420" y="611" width="2" height="1" fill="#000" /><text transform="translate(1422.58,664) scale(0.9250,1)" font-size="10" fill="#000" >-0.00762</text><rect x="1420" y="666" width="2" height="1" fill="#000" /><text transform="translate(7.65,682) scale(0.9320,1)" font-size="10" fill="#000" >RSI(14) 42.4249</text><text transform="translate(1423.24,680) scale(0.8746,1)" font-size="10" fill="#000" >100</text><rect x="1420" y="671" width="2" height="1" fill="#000" /><text transform="translate(1422.64,713) scale(0.9250,1)" font-size="10" fill="#000" >70</text><rect x="1420" y="709" width="2" height="1" fill="#000" /><text transform="translate(1422.73,764) scale(0.9250,1)" font-size="10" fill="#000" >30</text><rect x="1420" y="760" width="2" height="1" fill="#000" /><text transform="translate(1422.73,796) scale(0.9250,1)" font-size="10" fill="#000" >0</text><rect x="1420" y="798" width="2" height="1" fill="#000" /><line x1="4" y1="709.5" x2="1419" y2="709.5" stroke="#c0c0c0" stroke-dasharray="3,3"/><line x1="4" y1="760.5" x2="1419" y2="760.5" stroke="#c0c0c0" stroke-dasharray="3,3"/><rect x="4" y="800" width="1" height="3" fill="#000" /><text transform="translate(2.61,812) scale(0.9230,1)" font-size="10" fill="#000" >19 Sep 2018</text><rect x="68" y="800" width="1" height="3" fill="#000" /><text transform="translate(66.88,812) scale(0.9230,1)" font-size="10" fill="#000" >8 Oct 2018</text><rect x="132" y="800" width="1" height="3" fill="#000" /><text transform="translate(130.84,812) scale(0.9230,1)" font-size="10" fill="#000" >26 Oct 2018</text><rect x="196" y="800" width="1" height="3" fill="#000" /><text transform="translate(194.61,812) scale(0.9230,1)" font-size="10" fill="#000" >14 Nov 2018</text><rect x="260" y="800" width="1" height="3" fill="#000" /><text transform="translate(258.93,812) scale(0.9230,1)" font-size="10" fill="#000" >3 Dec 2018</text><rect x="324" y="800" width="1" height="3" fill="#000" /><text transform="translate(322.84,812) scale(0.9230,1)" font-size="10" fill="#000" >21 Dec 2018</text><rect x="388" y="800" width="1" height="3" fill="#000" /><text transform="translate(386.88,812) scale(0.9230,1)" font-size="10" fill="#000" >9 Jan 2019</text><rect x="452" y="800" width="1" height="3" fill="#000" /><text transform="translate(450.84,812) scale(0.9230,1)" font-size="10" fill="#000" >28 Jan 2019</text><rect x="516" y="800" width="1" height="3" fill="#000" /><text transform="translate(514.61,812) scale(0.9230,1)" font-size="10" fill="#000" >15 Feb 2019</text><rect x="580" y="800" width="1" height="3" fill="#000" /><text transform="translate(578.84,812) scale(0.9230,1)" font-size="10" fill="#000" >6 Mar 2019</text><rect x="644" y="800" width="1" height="3" fill="#000" /><text transform="translate(642.84,812) scale(0.9230,1)" font-size="10" fill="#000" >25 Mar 2019</text><rect x="708" y="800" width="1" height="3" fill="#000" /><text transform="translate(706.61,812) scale(0.9230,1)" font-size="10" fill="#000" >12 Apr 2019</text><rect x="772" y="800" width="1" height="3" fill="#000" /><text transform="translate(770.84,812) scale(0.9230,1)" font-size="10" fill="#000" >2 May 2019</text><rect x="836" y="800" width="1" height="3" fill="#000" /><text transform="translate(834.84,812) scale(0.9230,1)" font-size="10" fill="#000" >21 May 2019</text><rect x="900" y="800" width="1" height="3" fill="#000" /><text transform="translate(898.88,812) scale(0.9230,1)" font-size="10" fill="#000" >9 Jun 2019</text><rect x="964" y="800" width="1" height="3" fill="#000" /><text transform="translate(962.84,812) scale(0.9230,1)" font-size="10" fill="#000" >27 Jun 2019</text><rect x="1028" y="800" width="1" height="3" fill="#000" /><text transform="translate(1026.61,812) scale(0.9230,1)" font-size="10" fill="#000" >16 Jul 2019</text><rect x="1092" y="800" width="1" height="3" fill="#000" /><text transform="translate(1091.12,812) scale(0.9230,1)" font-size="10" fill="#000" >4 Aug 2019</text><rect x="0" y="820" width="1463" height="1" fill="#e6e6e6" /><rect x="0" y="822" width="1463" height="1" fill="#000" /><rect x="0" y="823" width="1463" height="15" fill="#f0f0f0" /><rect x="0" y="823" width="1463" height="1" fill="#ffffff" /><rect x="0" y="823" width="1" height="15" fill="#5a5a5a" /><rect x="1" y="823" width="1" height="15" fill="#ffffff" /><rect x="222" y="821" width="106" height="17" fill="#ffffff" /><rect x="329" y="823" width="1" height="15" fill="#ffffff" /><rect x="221" y="822" width="1" height="16" fill="#000" /><rect x="328" y="822" width="1" height="16" fill="#000" /><rect x="113" y="825" width="1" height="13" fill="#606060" /><rect x="437" y="825" width="1" height="13" fill="#606060" /><rect x="549" y="825" width="1" height="13" fill="#606060" /><rect x="669" y="825" width="1" height="13" fill="#606060" /><rect x="793" y="825" width="1" height="13" fill="#606060" /><rect x="889" y="825" width="1" height="13" fill="#606060" /><rect x="969" y="825" width="1" height="13" fill="#606060" /><rect x="1073" y="825" width="1" height="13" fill="#606060" /><text transform="translate(16.04,837) scale(1.0036,1)" font-size="12" fill="#6e6a70" >EURUSD-,Daily</text><text transform="translate(123.80,837) scale(1.0123,1)" font-size="12" fill="#6e6a70" >AUDUSD-,Daily</text><text transform="translate(233.10,837) scale(1.0000,1)" font-size="12" fill="#000000" >USDCHF-,Daily</text><text transform="translate(339.58,837) scale(1.0184,1)" font-size="12" fill="#6e6a70" >USDCAD-,Daily</text><text transform="translate(448.36,837) scale(1.0424,1)" font-size="12" fill="#6e6a70" >USDCNH-,Daily</text><text transform="translate(559.73,837) scale(1.0071,1)" font-size="12" fill="#6e6a70" >EURCHF-,Weekly</text><text transform="translate(680.69,837) scale(1.0366,1)" font-size="12" fill="#6e6a70" >XAUUSD-,Weekly</text><text transform="translate(803.60,837) scale(1.0003,1)" font-size="12" fill="#6e6a70" >GBPUSD-,H1</text><text transform="translate(899.44,837) scale(1.0654,1)" font-size="12" fill="#6e6a70" >UKOil-,H1</text><text transform="translate(978.55,837) scale(1.0532,1)" font-size="12" fill="#6e6a70" >USDX-,Weekly</text><path d="M1438.5,828 v6.5 l-3.7,-3.25 z" fill="#9a9a9a"/><path d="M1454,828 v6.5 l3.7,-3.25 z" fill="#9a9a9a"/></svg></body></html>
